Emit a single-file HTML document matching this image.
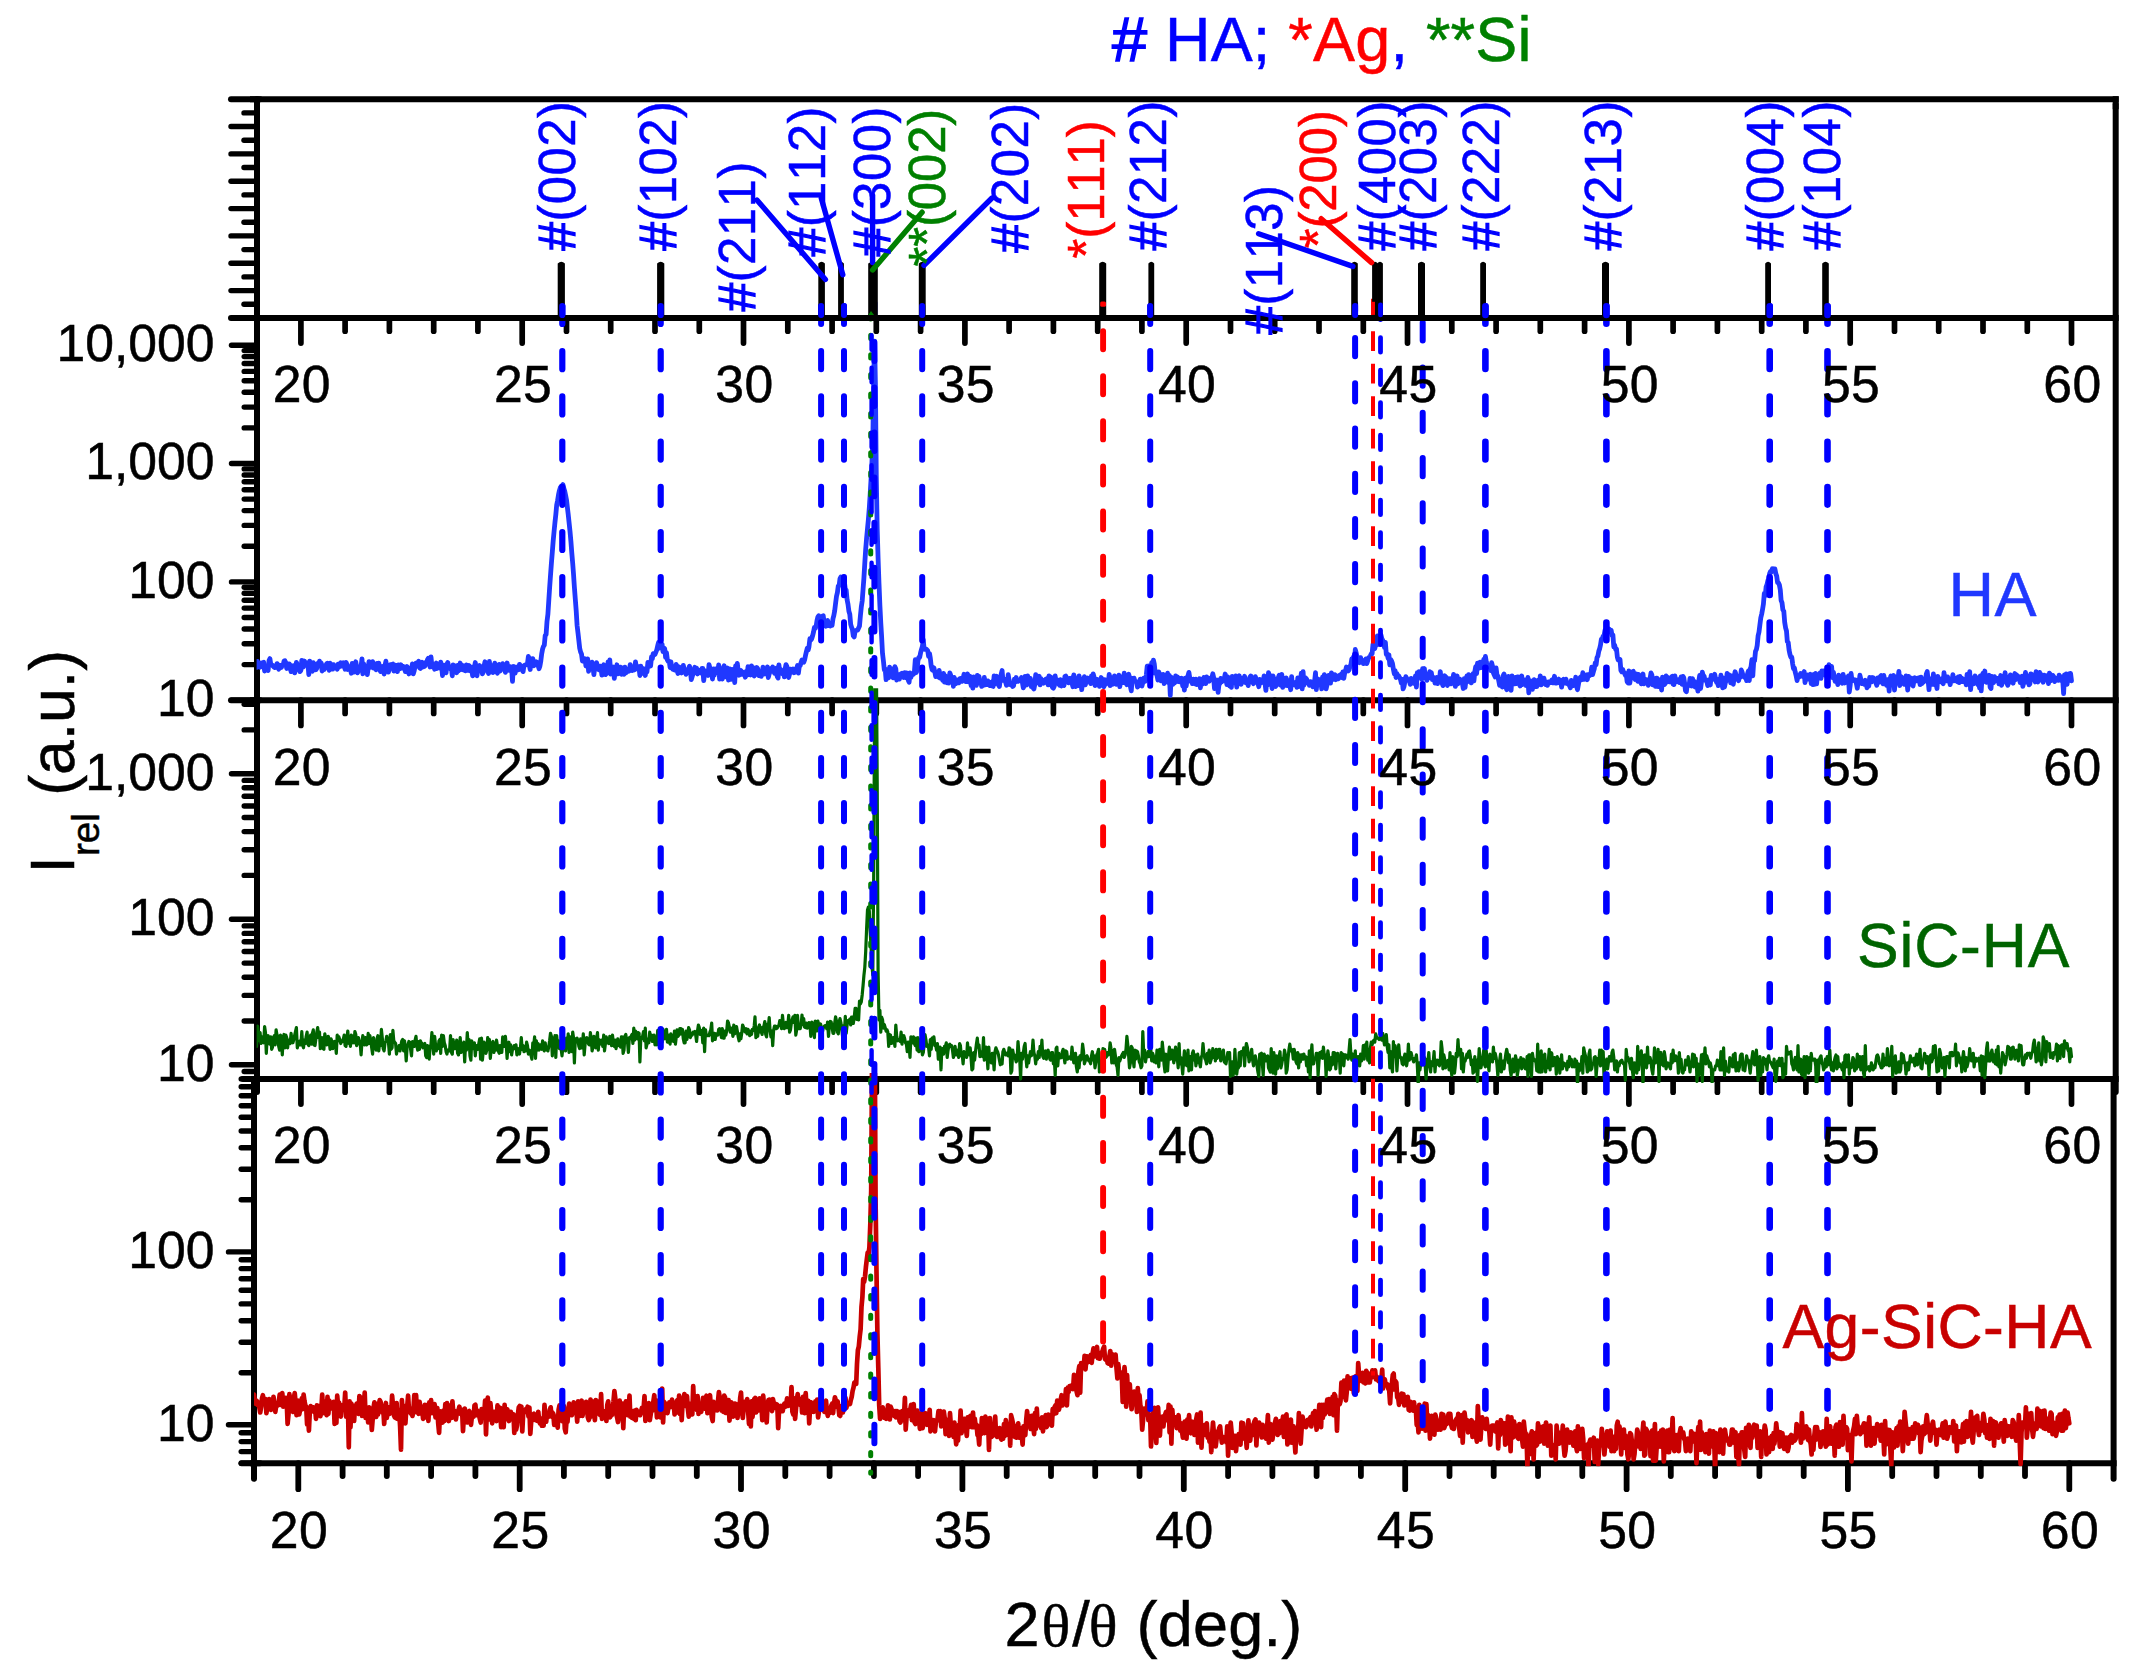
<!DOCTYPE html>
<html lang="en"><head><meta charset="utf-8"><title>XRD patterns: HA, SiC-HA, Ag-SiC-HA</title>
<style>html,body{margin:0;padding:0;background:#fff;overflow:hidden}svg{display:block}text{font-family:"Liberation Sans",sans-serif;font-kerning:none;font-variant-ligatures:none}.sym{font-family:"Liberation Serif","DejaVu Serif",serif}</style></head><body>
<svg width="2142" height="1678" viewBox="0 0 2142 1678">
<rect x="0" y="0" width="2142" height="1678" fill="#fff"/>
<defs>
<clipPath id="c2"><rect x="256.6" y="315.9" width="1859.2" height="388.3"/></clipPath>
<clipPath id="c3"><rect x="256.6" y="688.2" width="1859.2" height="394.7"/></clipPath>
<clipPath id="c4"><rect x="254" y="1072.9" width="1859.6" height="393.3"/></clipPath>
</defs>
<g id="axes-lower">
<line x1="257" y1="99.2" x2="257" y2="1091.9" stroke="#000" stroke-width="6" stroke-linecap="round"/>
<line x1="2115.7" y1="96.2" x2="2115.7" y2="109.2" stroke="#000" stroke-width="6" stroke-linecap="butt"/>
<line x1="2115.7" y1="104.2" x2="2115.7" y2="1091.9" stroke="#000" stroke-width="6" stroke-linecap="round"/>
<line x1="254" y1="1078.9" x2="254" y2="1478.7" stroke="#000" stroke-width="6" stroke-linecap="round"/>
<line x1="2113.6" y1="1078.9" x2="2113.6" y2="1478.7" stroke="#000" stroke-width="6" stroke-linecap="round"/>
<line x1="243" y1="1078.9" x2="260" y2="1078.9" stroke="#000" stroke-width="6" stroke-linecap="round"/>
<line x1="250" y1="1078.9" x2="2118.7" y2="1078.9" stroke="#000" stroke-width="6" stroke-linecap="butt"/>
<line x1="241.5" y1="1463.2" x2="260" y2="1463.2" stroke="#000" stroke-width="6" stroke-linecap="round"/>
<line x1="250" y1="1463.2" x2="2116.6" y2="1463.2" stroke="#000" stroke-width="6" stroke-linecap="butt"/>
<line x1="231" y1="700.2" x2="260" y2="700.2" stroke="#000" stroke-width="6" stroke-linecap="round"/>
<line x1="250" y1="700.2" x2="2118.7" y2="700.2" stroke="#000" stroke-width="6" stroke-linecap="butt"/>
<line x1="300.9" y1="317.9" x2="300.9" y2="343.1" stroke="#000" stroke-width="5.7" stroke-linecap="round"/>
<line x1="345.1" y1="317.9" x2="345.1" y2="331.2" stroke="#000" stroke-width="5.7" stroke-linecap="round"/>
<line x1="389.4" y1="317.9" x2="389.4" y2="331.2" stroke="#000" stroke-width="5.7" stroke-linecap="round"/>
<line x1="433.7" y1="317.9" x2="433.7" y2="331.2" stroke="#000" stroke-width="5.7" stroke-linecap="round"/>
<line x1="477.9" y1="317.9" x2="477.9" y2="331.2" stroke="#000" stroke-width="5.7" stroke-linecap="round"/>
<line x1="522.2" y1="317.9" x2="522.2" y2="343.1" stroke="#000" stroke-width="5.7" stroke-linecap="round"/>
<line x1="566.5" y1="317.9" x2="566.5" y2="331.2" stroke="#000" stroke-width="5.7" stroke-linecap="round"/>
<line x1="610.7" y1="317.9" x2="610.7" y2="331.2" stroke="#000" stroke-width="5.7" stroke-linecap="round"/>
<line x1="655" y1="317.9" x2="655" y2="331.2" stroke="#000" stroke-width="5.7" stroke-linecap="round"/>
<line x1="699.3" y1="317.9" x2="699.3" y2="331.2" stroke="#000" stroke-width="5.7" stroke-linecap="round"/>
<line x1="743.5" y1="317.9" x2="743.5" y2="343.1" stroke="#000" stroke-width="5.7" stroke-linecap="round"/>
<line x1="787.8" y1="317.9" x2="787.8" y2="331.2" stroke="#000" stroke-width="5.7" stroke-linecap="round"/>
<line x1="832.1" y1="317.9" x2="832.1" y2="331.2" stroke="#000" stroke-width="5.7" stroke-linecap="round"/>
<line x1="876.3" y1="317.9" x2="876.3" y2="331.2" stroke="#000" stroke-width="5.7" stroke-linecap="round"/>
<line x1="920.6" y1="317.9" x2="920.6" y2="331.2" stroke="#000" stroke-width="5.7" stroke-linecap="round"/>
<line x1="964.9" y1="317.9" x2="964.9" y2="343.1" stroke="#000" stroke-width="5.7" stroke-linecap="round"/>
<line x1="1009.1" y1="317.9" x2="1009.1" y2="331.2" stroke="#000" stroke-width="5.7" stroke-linecap="round"/>
<line x1="1053.4" y1="317.9" x2="1053.4" y2="331.2" stroke="#000" stroke-width="5.7" stroke-linecap="round"/>
<line x1="1097.7" y1="317.9" x2="1097.7" y2="331.2" stroke="#000" stroke-width="5.7" stroke-linecap="round"/>
<line x1="1141.9" y1="317.9" x2="1141.9" y2="331.2" stroke="#000" stroke-width="5.7" stroke-linecap="round"/>
<line x1="1186.2" y1="317.9" x2="1186.2" y2="343.1" stroke="#000" stroke-width="5.7" stroke-linecap="round"/>
<line x1="1230.5" y1="317.9" x2="1230.5" y2="331.2" stroke="#000" stroke-width="5.7" stroke-linecap="round"/>
<line x1="1274.7" y1="317.9" x2="1274.7" y2="331.2" stroke="#000" stroke-width="5.7" stroke-linecap="round"/>
<line x1="1319" y1="317.9" x2="1319" y2="331.2" stroke="#000" stroke-width="5.7" stroke-linecap="round"/>
<line x1="1363.3" y1="317.9" x2="1363.3" y2="331.2" stroke="#000" stroke-width="5.7" stroke-linecap="round"/>
<line x1="1407.5" y1="317.9" x2="1407.5" y2="343.1" stroke="#000" stroke-width="5.7" stroke-linecap="round"/>
<line x1="1451.8" y1="317.9" x2="1451.8" y2="331.2" stroke="#000" stroke-width="5.7" stroke-linecap="round"/>
<line x1="1496.1" y1="317.9" x2="1496.1" y2="331.2" stroke="#000" stroke-width="5.7" stroke-linecap="round"/>
<line x1="1540.3" y1="317.9" x2="1540.3" y2="331.2" stroke="#000" stroke-width="5.7" stroke-linecap="round"/>
<line x1="1584.6" y1="317.9" x2="1584.6" y2="331.2" stroke="#000" stroke-width="5.7" stroke-linecap="round"/>
<line x1="1628.9" y1="317.9" x2="1628.9" y2="343.1" stroke="#000" stroke-width="5.7" stroke-linecap="round"/>
<line x1="1673.1" y1="317.9" x2="1673.1" y2="331.2" stroke="#000" stroke-width="5.7" stroke-linecap="round"/>
<line x1="1717.4" y1="317.9" x2="1717.4" y2="331.2" stroke="#000" stroke-width="5.7" stroke-linecap="round"/>
<line x1="1761.7" y1="317.9" x2="1761.7" y2="331.2" stroke="#000" stroke-width="5.7" stroke-linecap="round"/>
<line x1="1805.9" y1="317.9" x2="1805.9" y2="331.2" stroke="#000" stroke-width="5.7" stroke-linecap="round"/>
<line x1="1850.2" y1="317.9" x2="1850.2" y2="343.1" stroke="#000" stroke-width="5.7" stroke-linecap="round"/>
<line x1="1894.5" y1="317.9" x2="1894.5" y2="331.2" stroke="#000" stroke-width="5.7" stroke-linecap="round"/>
<line x1="1938.7" y1="317.9" x2="1938.7" y2="331.2" stroke="#000" stroke-width="5.7" stroke-linecap="round"/>
<line x1="1983" y1="317.9" x2="1983" y2="331.2" stroke="#000" stroke-width="5.7" stroke-linecap="round"/>
<line x1="2027.3" y1="317.9" x2="2027.3" y2="331.2" stroke="#000" stroke-width="5.7" stroke-linecap="round"/>
<line x1="2071.5" y1="317.9" x2="2071.5" y2="343.1" stroke="#000" stroke-width="5.7" stroke-linecap="round"/>
<line x1="300.9" y1="700.2" x2="300.9" y2="725.4" stroke="#000" stroke-width="5.7" stroke-linecap="round"/>
<line x1="345.1" y1="700.2" x2="345.1" y2="713.5" stroke="#000" stroke-width="5.7" stroke-linecap="round"/>
<line x1="389.4" y1="700.2" x2="389.4" y2="713.5" stroke="#000" stroke-width="5.7" stroke-linecap="round"/>
<line x1="433.7" y1="700.2" x2="433.7" y2="713.5" stroke="#000" stroke-width="5.7" stroke-linecap="round"/>
<line x1="477.9" y1="700.2" x2="477.9" y2="713.5" stroke="#000" stroke-width="5.7" stroke-linecap="round"/>
<line x1="522.2" y1="700.2" x2="522.2" y2="725.4" stroke="#000" stroke-width="5.7" stroke-linecap="round"/>
<line x1="566.5" y1="700.2" x2="566.5" y2="713.5" stroke="#000" stroke-width="5.7" stroke-linecap="round"/>
<line x1="610.7" y1="700.2" x2="610.7" y2="713.5" stroke="#000" stroke-width="5.7" stroke-linecap="round"/>
<line x1="655" y1="700.2" x2="655" y2="713.5" stroke="#000" stroke-width="5.7" stroke-linecap="round"/>
<line x1="699.3" y1="700.2" x2="699.3" y2="713.5" stroke="#000" stroke-width="5.7" stroke-linecap="round"/>
<line x1="743.5" y1="700.2" x2="743.5" y2="725.4" stroke="#000" stroke-width="5.7" stroke-linecap="round"/>
<line x1="787.8" y1="700.2" x2="787.8" y2="713.5" stroke="#000" stroke-width="5.7" stroke-linecap="round"/>
<line x1="832.1" y1="700.2" x2="832.1" y2="713.5" stroke="#000" stroke-width="5.7" stroke-linecap="round"/>
<line x1="876.3" y1="700.2" x2="876.3" y2="713.5" stroke="#000" stroke-width="5.7" stroke-linecap="round"/>
<line x1="920.6" y1="700.2" x2="920.6" y2="713.5" stroke="#000" stroke-width="5.7" stroke-linecap="round"/>
<line x1="964.9" y1="700.2" x2="964.9" y2="725.4" stroke="#000" stroke-width="5.7" stroke-linecap="round"/>
<line x1="1009.1" y1="700.2" x2="1009.1" y2="713.5" stroke="#000" stroke-width="5.7" stroke-linecap="round"/>
<line x1="1053.4" y1="700.2" x2="1053.4" y2="713.5" stroke="#000" stroke-width="5.7" stroke-linecap="round"/>
<line x1="1097.7" y1="700.2" x2="1097.7" y2="713.5" stroke="#000" stroke-width="5.7" stroke-linecap="round"/>
<line x1="1141.9" y1="700.2" x2="1141.9" y2="713.5" stroke="#000" stroke-width="5.7" stroke-linecap="round"/>
<line x1="1186.2" y1="700.2" x2="1186.2" y2="725.4" stroke="#000" stroke-width="5.7" stroke-linecap="round"/>
<line x1="1230.5" y1="700.2" x2="1230.5" y2="713.5" stroke="#000" stroke-width="5.7" stroke-linecap="round"/>
<line x1="1274.7" y1="700.2" x2="1274.7" y2="713.5" stroke="#000" stroke-width="5.7" stroke-linecap="round"/>
<line x1="1319" y1="700.2" x2="1319" y2="713.5" stroke="#000" stroke-width="5.7" stroke-linecap="round"/>
<line x1="1363.3" y1="700.2" x2="1363.3" y2="713.5" stroke="#000" stroke-width="5.7" stroke-linecap="round"/>
<line x1="1407.5" y1="700.2" x2="1407.5" y2="725.4" stroke="#000" stroke-width="5.7" stroke-linecap="round"/>
<line x1="1451.8" y1="700.2" x2="1451.8" y2="713.5" stroke="#000" stroke-width="5.7" stroke-linecap="round"/>
<line x1="1496.1" y1="700.2" x2="1496.1" y2="713.5" stroke="#000" stroke-width="5.7" stroke-linecap="round"/>
<line x1="1540.3" y1="700.2" x2="1540.3" y2="713.5" stroke="#000" stroke-width="5.7" stroke-linecap="round"/>
<line x1="1584.6" y1="700.2" x2="1584.6" y2="713.5" stroke="#000" stroke-width="5.7" stroke-linecap="round"/>
<line x1="1628.9" y1="700.2" x2="1628.9" y2="725.4" stroke="#000" stroke-width="5.7" stroke-linecap="round"/>
<line x1="1673.1" y1="700.2" x2="1673.1" y2="713.5" stroke="#000" stroke-width="5.7" stroke-linecap="round"/>
<line x1="1717.4" y1="700.2" x2="1717.4" y2="713.5" stroke="#000" stroke-width="5.7" stroke-linecap="round"/>
<line x1="1761.7" y1="700.2" x2="1761.7" y2="713.5" stroke="#000" stroke-width="5.7" stroke-linecap="round"/>
<line x1="1805.9" y1="700.2" x2="1805.9" y2="713.5" stroke="#000" stroke-width="5.7" stroke-linecap="round"/>
<line x1="1850.2" y1="700.2" x2="1850.2" y2="725.4" stroke="#000" stroke-width="5.7" stroke-linecap="round"/>
<line x1="1894.5" y1="700.2" x2="1894.5" y2="713.5" stroke="#000" stroke-width="5.7" stroke-linecap="round"/>
<line x1="1938.7" y1="700.2" x2="1938.7" y2="713.5" stroke="#000" stroke-width="5.7" stroke-linecap="round"/>
<line x1="1983" y1="700.2" x2="1983" y2="713.5" stroke="#000" stroke-width="5.7" stroke-linecap="round"/>
<line x1="2027.3" y1="700.2" x2="2027.3" y2="713.5" stroke="#000" stroke-width="5.7" stroke-linecap="round"/>
<line x1="2071.5" y1="700.2" x2="2071.5" y2="725.4" stroke="#000" stroke-width="5.7" stroke-linecap="round"/>
<line x1="300.9" y1="1078.9" x2="300.9" y2="1104.1" stroke="#000" stroke-width="5.7" stroke-linecap="round"/>
<line x1="345.1" y1="1078.9" x2="345.1" y2="1092.2" stroke="#000" stroke-width="5.7" stroke-linecap="round"/>
<line x1="389.4" y1="1078.9" x2="389.4" y2="1092.2" stroke="#000" stroke-width="5.7" stroke-linecap="round"/>
<line x1="433.7" y1="1078.9" x2="433.7" y2="1092.2" stroke="#000" stroke-width="5.7" stroke-linecap="round"/>
<line x1="477.9" y1="1078.9" x2="477.9" y2="1092.2" stroke="#000" stroke-width="5.7" stroke-linecap="round"/>
<line x1="522.2" y1="1078.9" x2="522.2" y2="1104.1" stroke="#000" stroke-width="5.7" stroke-linecap="round"/>
<line x1="566.5" y1="1078.9" x2="566.5" y2="1092.2" stroke="#000" stroke-width="5.7" stroke-linecap="round"/>
<line x1="610.7" y1="1078.9" x2="610.7" y2="1092.2" stroke="#000" stroke-width="5.7" stroke-linecap="round"/>
<line x1="655" y1="1078.9" x2="655" y2="1092.2" stroke="#000" stroke-width="5.7" stroke-linecap="round"/>
<line x1="699.3" y1="1078.9" x2="699.3" y2="1092.2" stroke="#000" stroke-width="5.7" stroke-linecap="round"/>
<line x1="743.5" y1="1078.9" x2="743.5" y2="1104.1" stroke="#000" stroke-width="5.7" stroke-linecap="round"/>
<line x1="787.8" y1="1078.9" x2="787.8" y2="1092.2" stroke="#000" stroke-width="5.7" stroke-linecap="round"/>
<line x1="832.1" y1="1078.9" x2="832.1" y2="1092.2" stroke="#000" stroke-width="5.7" stroke-linecap="round"/>
<line x1="876.3" y1="1078.9" x2="876.3" y2="1092.2" stroke="#000" stroke-width="5.7" stroke-linecap="round"/>
<line x1="920.6" y1="1078.9" x2="920.6" y2="1092.2" stroke="#000" stroke-width="5.7" stroke-linecap="round"/>
<line x1="964.9" y1="1078.9" x2="964.9" y2="1104.1" stroke="#000" stroke-width="5.7" stroke-linecap="round"/>
<line x1="1009.1" y1="1078.9" x2="1009.1" y2="1092.2" stroke="#000" stroke-width="5.7" stroke-linecap="round"/>
<line x1="1053.4" y1="1078.9" x2="1053.4" y2="1092.2" stroke="#000" stroke-width="5.7" stroke-linecap="round"/>
<line x1="1097.7" y1="1078.9" x2="1097.7" y2="1092.2" stroke="#000" stroke-width="5.7" stroke-linecap="round"/>
<line x1="1141.9" y1="1078.9" x2="1141.9" y2="1092.2" stroke="#000" stroke-width="5.7" stroke-linecap="round"/>
<line x1="1186.2" y1="1078.9" x2="1186.2" y2="1104.1" stroke="#000" stroke-width="5.7" stroke-linecap="round"/>
<line x1="1230.5" y1="1078.9" x2="1230.5" y2="1092.2" stroke="#000" stroke-width="5.7" stroke-linecap="round"/>
<line x1="1274.7" y1="1078.9" x2="1274.7" y2="1092.2" stroke="#000" stroke-width="5.7" stroke-linecap="round"/>
<line x1="1319" y1="1078.9" x2="1319" y2="1092.2" stroke="#000" stroke-width="5.7" stroke-linecap="round"/>
<line x1="1363.3" y1="1078.9" x2="1363.3" y2="1092.2" stroke="#000" stroke-width="5.7" stroke-linecap="round"/>
<line x1="1407.5" y1="1078.9" x2="1407.5" y2="1104.1" stroke="#000" stroke-width="5.7" stroke-linecap="round"/>
<line x1="1451.8" y1="1078.9" x2="1451.8" y2="1092.2" stroke="#000" stroke-width="5.7" stroke-linecap="round"/>
<line x1="1496.1" y1="1078.9" x2="1496.1" y2="1092.2" stroke="#000" stroke-width="5.7" stroke-linecap="round"/>
<line x1="1540.3" y1="1078.9" x2="1540.3" y2="1092.2" stroke="#000" stroke-width="5.7" stroke-linecap="round"/>
<line x1="1584.6" y1="1078.9" x2="1584.6" y2="1092.2" stroke="#000" stroke-width="5.7" stroke-linecap="round"/>
<line x1="1628.9" y1="1078.9" x2="1628.9" y2="1104.1" stroke="#000" stroke-width="5.7" stroke-linecap="round"/>
<line x1="1673.1" y1="1078.9" x2="1673.1" y2="1092.2" stroke="#000" stroke-width="5.7" stroke-linecap="round"/>
<line x1="1717.4" y1="1078.9" x2="1717.4" y2="1092.2" stroke="#000" stroke-width="5.7" stroke-linecap="round"/>
<line x1="1761.7" y1="1078.9" x2="1761.7" y2="1092.2" stroke="#000" stroke-width="5.7" stroke-linecap="round"/>
<line x1="1805.9" y1="1078.9" x2="1805.9" y2="1092.2" stroke="#000" stroke-width="5.7" stroke-linecap="round"/>
<line x1="1850.2" y1="1078.9" x2="1850.2" y2="1104.1" stroke="#000" stroke-width="5.7" stroke-linecap="round"/>
<line x1="1894.5" y1="1078.9" x2="1894.5" y2="1092.2" stroke="#000" stroke-width="5.7" stroke-linecap="round"/>
<line x1="1938.7" y1="1078.9" x2="1938.7" y2="1092.2" stroke="#000" stroke-width="5.7" stroke-linecap="round"/>
<line x1="1983" y1="1078.9" x2="1983" y2="1092.2" stroke="#000" stroke-width="5.7" stroke-linecap="round"/>
<line x1="2027.3" y1="1078.9" x2="2027.3" y2="1092.2" stroke="#000" stroke-width="5.7" stroke-linecap="round"/>
<line x1="2071.5" y1="1078.9" x2="2071.5" y2="1104.1" stroke="#000" stroke-width="5.7" stroke-linecap="round"/>
<line x1="298.3" y1="1463.2" x2="298.3" y2="1489.2" stroke="#000" stroke-width="5.8" stroke-linecap="round"/>
<line x1="342.6" y1="1463.2" x2="342.6" y2="1476" stroke="#000" stroke-width="5.8" stroke-linecap="round"/>
<line x1="386.8" y1="1463.2" x2="386.8" y2="1476" stroke="#000" stroke-width="5.8" stroke-linecap="round"/>
<line x1="431.1" y1="1463.2" x2="431.1" y2="1476" stroke="#000" stroke-width="5.8" stroke-linecap="round"/>
<line x1="475.4" y1="1463.2" x2="475.4" y2="1476" stroke="#000" stroke-width="5.8" stroke-linecap="round"/>
<line x1="519.7" y1="1463.2" x2="519.7" y2="1489.2" stroke="#000" stroke-width="5.8" stroke-linecap="round"/>
<line x1="563.9" y1="1463.2" x2="563.9" y2="1476" stroke="#000" stroke-width="5.8" stroke-linecap="round"/>
<line x1="608.2" y1="1463.2" x2="608.2" y2="1476" stroke="#000" stroke-width="5.8" stroke-linecap="round"/>
<line x1="652.5" y1="1463.2" x2="652.5" y2="1476" stroke="#000" stroke-width="5.8" stroke-linecap="round"/>
<line x1="696.8" y1="1463.2" x2="696.8" y2="1476" stroke="#000" stroke-width="5.8" stroke-linecap="round"/>
<line x1="741" y1="1463.2" x2="741" y2="1489.2" stroke="#000" stroke-width="5.8" stroke-linecap="round"/>
<line x1="785.3" y1="1463.2" x2="785.3" y2="1476" stroke="#000" stroke-width="5.8" stroke-linecap="round"/>
<line x1="829.6" y1="1463.2" x2="829.6" y2="1476" stroke="#000" stroke-width="5.8" stroke-linecap="round"/>
<line x1="873.9" y1="1463.2" x2="873.9" y2="1476" stroke="#000" stroke-width="5.8" stroke-linecap="round"/>
<line x1="918.1" y1="1463.2" x2="918.1" y2="1476" stroke="#000" stroke-width="5.8" stroke-linecap="round"/>
<line x1="962.4" y1="1463.2" x2="962.4" y2="1489.2" stroke="#000" stroke-width="5.8" stroke-linecap="round"/>
<line x1="1006.7" y1="1463.2" x2="1006.7" y2="1476" stroke="#000" stroke-width="5.8" stroke-linecap="round"/>
<line x1="1051" y1="1463.2" x2="1051" y2="1476" stroke="#000" stroke-width="5.8" stroke-linecap="round"/>
<line x1="1095.2" y1="1463.2" x2="1095.2" y2="1476" stroke="#000" stroke-width="5.8" stroke-linecap="round"/>
<line x1="1139.5" y1="1463.2" x2="1139.5" y2="1476" stroke="#000" stroke-width="5.8" stroke-linecap="round"/>
<line x1="1183.8" y1="1463.2" x2="1183.8" y2="1489.2" stroke="#000" stroke-width="5.8" stroke-linecap="round"/>
<line x1="1228.1" y1="1463.2" x2="1228.1" y2="1476" stroke="#000" stroke-width="5.8" stroke-linecap="round"/>
<line x1="1272.4" y1="1463.2" x2="1272.4" y2="1476" stroke="#000" stroke-width="5.8" stroke-linecap="round"/>
<line x1="1316.6" y1="1463.2" x2="1316.6" y2="1476" stroke="#000" stroke-width="5.8" stroke-linecap="round"/>
<line x1="1360.9" y1="1463.2" x2="1360.9" y2="1476" stroke="#000" stroke-width="5.8" stroke-linecap="round"/>
<line x1="1405.2" y1="1463.2" x2="1405.2" y2="1489.2" stroke="#000" stroke-width="5.8" stroke-linecap="round"/>
<line x1="1449.5" y1="1463.2" x2="1449.5" y2="1476" stroke="#000" stroke-width="5.8" stroke-linecap="round"/>
<line x1="1493.7" y1="1463.2" x2="1493.7" y2="1476" stroke="#000" stroke-width="5.8" stroke-linecap="round"/>
<line x1="1538" y1="1463.2" x2="1538" y2="1476" stroke="#000" stroke-width="5.8" stroke-linecap="round"/>
<line x1="1582.3" y1="1463.2" x2="1582.3" y2="1476" stroke="#000" stroke-width="5.8" stroke-linecap="round"/>
<line x1="1626.6" y1="1463.2" x2="1626.6" y2="1489.2" stroke="#000" stroke-width="5.8" stroke-linecap="round"/>
<line x1="1670.8" y1="1463.2" x2="1670.8" y2="1476" stroke="#000" stroke-width="5.8" stroke-linecap="round"/>
<line x1="1715.1" y1="1463.2" x2="1715.1" y2="1476" stroke="#000" stroke-width="5.8" stroke-linecap="round"/>
<line x1="1759.4" y1="1463.2" x2="1759.4" y2="1476" stroke="#000" stroke-width="5.8" stroke-linecap="round"/>
<line x1="1803.7" y1="1463.2" x2="1803.7" y2="1476" stroke="#000" stroke-width="5.8" stroke-linecap="round"/>
<line x1="1847.9" y1="1463.2" x2="1847.9" y2="1489.2" stroke="#000" stroke-width="5.8" stroke-linecap="round"/>
<line x1="1892.2" y1="1463.2" x2="1892.2" y2="1476" stroke="#000" stroke-width="5.8" stroke-linecap="round"/>
<line x1="1936.5" y1="1463.2" x2="1936.5" y2="1476" stroke="#000" stroke-width="5.8" stroke-linecap="round"/>
<line x1="1980.8" y1="1463.2" x2="1980.8" y2="1476" stroke="#000" stroke-width="5.8" stroke-linecap="round"/>
<line x1="2025" y1="1463.2" x2="2025" y2="1476" stroke="#000" stroke-width="5.8" stroke-linecap="round"/>
<line x1="2069.3" y1="1463.2" x2="2069.3" y2="1489.2" stroke="#000" stroke-width="5.8" stroke-linecap="round"/>
<line x1="231.5" y1="700.2" x2="257" y2="700.2" stroke="#000" stroke-width="5.4" stroke-linecap="round"/>
<line x1="244.2" y1="664.6" x2="257" y2="664.6" stroke="#000" stroke-width="5.4" stroke-linecap="round"/>
<line x1="244.2" y1="643.7" x2="257" y2="643.7" stroke="#000" stroke-width="5.4" stroke-linecap="round"/>
<line x1="244.2" y1="629" x2="257" y2="629" stroke="#000" stroke-width="5.4" stroke-linecap="round"/>
<line x1="244.2" y1="617.5" x2="257" y2="617.5" stroke="#000" stroke-width="5.4" stroke-linecap="round"/>
<line x1="244.2" y1="608.1" x2="257" y2="608.1" stroke="#000" stroke-width="5.4" stroke-linecap="round"/>
<line x1="244.2" y1="600.2" x2="257" y2="600.2" stroke="#000" stroke-width="5.4" stroke-linecap="round"/>
<line x1="244.2" y1="593.3" x2="257" y2="593.3" stroke="#000" stroke-width="5.4" stroke-linecap="round"/>
<line x1="244.2" y1="587.3" x2="257" y2="587.3" stroke="#000" stroke-width="5.4" stroke-linecap="round"/>
<line x1="231.5" y1="581.9" x2="257" y2="581.9" stroke="#000" stroke-width="5.4" stroke-linecap="round"/>
<line x1="244.2" y1="546.2" x2="257" y2="546.2" stroke="#000" stroke-width="5.4" stroke-linecap="round"/>
<line x1="244.2" y1="525.4" x2="257" y2="525.4" stroke="#000" stroke-width="5.4" stroke-linecap="round"/>
<line x1="244.2" y1="510.6" x2="257" y2="510.6" stroke="#000" stroke-width="5.4" stroke-linecap="round"/>
<line x1="244.2" y1="499.1" x2="257" y2="499.1" stroke="#000" stroke-width="5.4" stroke-linecap="round"/>
<line x1="244.2" y1="489.8" x2="257" y2="489.8" stroke="#000" stroke-width="5.4" stroke-linecap="round"/>
<line x1="244.2" y1="481.8" x2="257" y2="481.8" stroke="#000" stroke-width="5.4" stroke-linecap="round"/>
<line x1="244.2" y1="475" x2="257" y2="475" stroke="#000" stroke-width="5.4" stroke-linecap="round"/>
<line x1="244.2" y1="468.9" x2="257" y2="468.9" stroke="#000" stroke-width="5.4" stroke-linecap="round"/>
<line x1="231.5" y1="463.5" x2="257" y2="463.5" stroke="#000" stroke-width="5.4" stroke-linecap="round"/>
<line x1="244.2" y1="427.9" x2="257" y2="427.9" stroke="#000" stroke-width="5.4" stroke-linecap="round"/>
<line x1="244.2" y1="407.1" x2="257" y2="407.1" stroke="#000" stroke-width="5.4" stroke-linecap="round"/>
<line x1="244.2" y1="392.3" x2="257" y2="392.3" stroke="#000" stroke-width="5.4" stroke-linecap="round"/>
<line x1="244.2" y1="380.8" x2="257" y2="380.8" stroke="#000" stroke-width="5.4" stroke-linecap="round"/>
<line x1="244.2" y1="371.4" x2="257" y2="371.4" stroke="#000" stroke-width="5.4" stroke-linecap="round"/>
<line x1="244.2" y1="363.5" x2="257" y2="363.5" stroke="#000" stroke-width="5.4" stroke-linecap="round"/>
<line x1="244.2" y1="356.6" x2="257" y2="356.6" stroke="#000" stroke-width="5.4" stroke-linecap="round"/>
<line x1="244.2" y1="350.6" x2="257" y2="350.6" stroke="#000" stroke-width="5.4" stroke-linecap="round"/>
<line x1="231.5" y1="345.2" x2="257" y2="345.2" stroke="#000" stroke-width="5.4" stroke-linecap="round"/>
<line x1="244.2" y1="1078.9" x2="257" y2="1078.9" stroke="#000" stroke-width="5.4" stroke-linecap="round"/>
<line x1="244.2" y1="1071.5" x2="257" y2="1071.5" stroke="#000" stroke-width="5.4" stroke-linecap="round"/>
<line x1="231.5" y1="1064.8" x2="257" y2="1064.8" stroke="#000" stroke-width="5.4" stroke-linecap="round"/>
<line x1="244.2" y1="1021" x2="257" y2="1021" stroke="#000" stroke-width="5.4" stroke-linecap="round"/>
<line x1="244.2" y1="995.4" x2="257" y2="995.4" stroke="#000" stroke-width="5.4" stroke-linecap="round"/>
<line x1="244.2" y1="977.2" x2="257" y2="977.2" stroke="#000" stroke-width="5.4" stroke-linecap="round"/>
<line x1="244.2" y1="963.1" x2="257" y2="963.1" stroke="#000" stroke-width="5.4" stroke-linecap="round"/>
<line x1="244.2" y1="951.5" x2="257" y2="951.5" stroke="#000" stroke-width="5.4" stroke-linecap="round"/>
<line x1="244.2" y1="941.8" x2="257" y2="941.8" stroke="#000" stroke-width="5.4" stroke-linecap="round"/>
<line x1="244.2" y1="933.4" x2="257" y2="933.4" stroke="#000" stroke-width="5.4" stroke-linecap="round"/>
<line x1="244.2" y1="925.9" x2="257" y2="925.9" stroke="#000" stroke-width="5.4" stroke-linecap="round"/>
<line x1="231.5" y1="919.3" x2="257" y2="919.3" stroke="#000" stroke-width="5.4" stroke-linecap="round"/>
<line x1="244.2" y1="875.4" x2="257" y2="875.4" stroke="#000" stroke-width="5.4" stroke-linecap="round"/>
<line x1="244.2" y1="849.8" x2="257" y2="849.8" stroke="#000" stroke-width="5.4" stroke-linecap="round"/>
<line x1="244.2" y1="831.6" x2="257" y2="831.6" stroke="#000" stroke-width="5.4" stroke-linecap="round"/>
<line x1="244.2" y1="817.5" x2="257" y2="817.5" stroke="#000" stroke-width="5.4" stroke-linecap="round"/>
<line x1="244.2" y1="806" x2="257" y2="806" stroke="#000" stroke-width="5.4" stroke-linecap="round"/>
<line x1="244.2" y1="796.3" x2="257" y2="796.3" stroke="#000" stroke-width="5.4" stroke-linecap="round"/>
<line x1="244.2" y1="787.8" x2="257" y2="787.8" stroke="#000" stroke-width="5.4" stroke-linecap="round"/>
<line x1="244.2" y1="780.4" x2="257" y2="780.4" stroke="#000" stroke-width="5.4" stroke-linecap="round"/>
<line x1="231.5" y1="773.7" x2="257" y2="773.7" stroke="#000" stroke-width="5.4" stroke-linecap="round"/>
<line x1="244.2" y1="729.9" x2="257" y2="729.9" stroke="#000" stroke-width="5.4" stroke-linecap="round"/>
<line x1="244.2" y1="704.3" x2="257" y2="704.3" stroke="#000" stroke-width="5.4" stroke-linecap="round"/>
<line x1="241.2" y1="1463.2" x2="254" y2="1463.2" stroke="#000" stroke-width="5.4" stroke-linecap="round"/>
<line x1="241.2" y1="1451.6" x2="254" y2="1451.6" stroke="#000" stroke-width="5.4" stroke-linecap="round"/>
<line x1="241.2" y1="1441.6" x2="254" y2="1441.6" stroke="#000" stroke-width="5.4" stroke-linecap="round"/>
<line x1="241.2" y1="1432.7" x2="254" y2="1432.7" stroke="#000" stroke-width="5.4" stroke-linecap="round"/>
<line x1="228.5" y1="1424.8" x2="254" y2="1424.8" stroke="#000" stroke-width="5.4" stroke-linecap="round"/>
<line x1="241.2" y1="1372.8" x2="254" y2="1372.8" stroke="#000" stroke-width="5.4" stroke-linecap="round"/>
<line x1="241.2" y1="1342.3" x2="254" y2="1342.3" stroke="#000" stroke-width="5.4" stroke-linecap="round"/>
<line x1="241.2" y1="1320.7" x2="254" y2="1320.7" stroke="#000" stroke-width="5.4" stroke-linecap="round"/>
<line x1="241.2" y1="1303.9" x2="254" y2="1303.9" stroke="#000" stroke-width="5.4" stroke-linecap="round"/>
<line x1="241.2" y1="1290.2" x2="254" y2="1290.2" stroke="#000" stroke-width="5.4" stroke-linecap="round"/>
<line x1="241.2" y1="1278.7" x2="254" y2="1278.7" stroke="#000" stroke-width="5.4" stroke-linecap="round"/>
<line x1="241.2" y1="1268.6" x2="254" y2="1268.6" stroke="#000" stroke-width="5.4" stroke-linecap="round"/>
<line x1="241.2" y1="1259.8" x2="254" y2="1259.8" stroke="#000" stroke-width="5.4" stroke-linecap="round"/>
<line x1="228.5" y1="1251.9" x2="254" y2="1251.9" stroke="#000" stroke-width="5.4" stroke-linecap="round"/>
<line x1="241.2" y1="1199.8" x2="254" y2="1199.8" stroke="#000" stroke-width="5.4" stroke-linecap="round"/>
<line x1="241.2" y1="1169.3" x2="254" y2="1169.3" stroke="#000" stroke-width="5.4" stroke-linecap="round"/>
<line x1="241.2" y1="1147.7" x2="254" y2="1147.7" stroke="#000" stroke-width="5.4" stroke-linecap="round"/>
<line x1="241.2" y1="1131" x2="254" y2="1131" stroke="#000" stroke-width="5.4" stroke-linecap="round"/>
<line x1="241.2" y1="1117.3" x2="254" y2="1117.3" stroke="#000" stroke-width="5.4" stroke-linecap="round"/>
<line x1="241.2" y1="1105.7" x2="254" y2="1105.7" stroke="#000" stroke-width="5.4" stroke-linecap="round"/>
<line x1="241.2" y1="1095.7" x2="254" y2="1095.7" stroke="#000" stroke-width="5.4" stroke-linecap="round"/>
<line x1="241.2" y1="1086.8" x2="254" y2="1086.8" stroke="#000" stroke-width="5.4" stroke-linecap="round"/>
<line x1="241.2" y1="1078.9" x2="254" y2="1078.9" stroke="#000" stroke-width="5.4" stroke-linecap="round"/>
</g>
<g id="curves">
<polyline clip-path="url(#c2)" fill="none" stroke="#2038ff" stroke-width="4.8" stroke-linejoin="round" stroke-linecap="round" points="256.6,667.5 257.5,661.4 258.4,665.5 259.3,663.6 260.1,667.2 261,663 261.9,665.3 262.8,662.5 263.7,662.3 264.6,671 265.5,666.2 266.3,667.2 267.2,668.2 268.1,670.5 269,660.7 269.9,658.6 270.8,664.3 271.7,664.8 272.5,665.3 273.4,666.5 274.3,667.5 275.2,667.5 276.1,667.2 277,663.6 277.8,667 278.7,669.2 279.6,665.3 280.5,667.7 281.4,667.5 282.3,665 283.2,665 284,661.2 284.9,660.7 285.8,662.5 286.7,668.5 287.6,668 288.5,663.9 289.4,663.9 290.2,668 291.1,671.6 292,666 292.9,667.2 293.8,665.8 294.7,672.9 295.6,669.2 296.4,662.3 297.3,664.8 298.2,665.3 299.1,667.7 300,671.6 300.9,670.3 301.8,660.3 302.6,667.2 303.5,667 304.4,661 305.3,665.5 306.2,663.4 307.1,663.6 307.9,662.7 308.8,674.6 309.7,661.2 310.6,667.2 311.5,662.7 312.4,671.3 313.3,662.7 314.1,665.8 315,665.3 315.9,669.7 316.8,668.2 317.7,663.4 318.6,665.5 319.5,661.2 320.3,663.6 321.2,663 322.1,671 323,669.7 323.9,669.7 324.8,665.8 325.7,668 326.5,663.9 327.4,663.2 328.3,666 329.2,670.3 330.1,663.2 331,664.8 331.9,669.2 332.7,669.2 333.6,664.6 334.5,667.7 335.4,666.7 336.3,666.7 337.2,669.2 338.1,664.1 338.9,667.2 339.8,665 340.7,662.7 341.6,666.2 342.5,666.2 343.4,662.7 344.2,665 345.1,669.2 346,662.3 346.9,664.3 347.8,669.5 348.7,668 349.6,667 350.4,668.2 351.3,673.2 352.2,663.4 353.1,666.5 354,672.1 354.9,663.6 355.8,661.8 356.6,666.7 357.5,672.9 358.4,670.8 359.3,669 360.2,666.7 361.1,666 362,658.8 362.8,673.8 363.7,663.9 364.6,668.5 365.5,670.8 366.4,670 367.3,674.6 368.2,667.7 369,661.6 369.9,667.5 370.8,665.3 371.7,664.8 372.6,661.6 373.5,668.2 374.3,666.7 375.2,667.2 376.1,669.7 377,663.4 377.9,664.8 378.8,663.2 379.7,669.2 380.5,671.6 381.4,667.5 382.3,666.5 383.2,666.7 384.1,674 385,665.3 385.9,661.2 386.7,668.5 387.6,668.2 388.5,672.1 389.4,667.7 390.3,664.6 391.2,667.2 392.1,664.6 392.9,664.1 393.8,671 394.7,668.2 395.6,665.3 396.5,669.2 397.4,671.6 398.3,665 399.1,665.5 400,668.7 400.9,664.8 401.8,667.7 402.7,668.2 403.6,666.5 404.5,667.7 405.3,671.6 406.2,671.3 407.1,666.5 408,668.2 408.9,674 409.8,671.6 410.6,672.4 411.5,670 412.4,663.9 413.3,673.8 414.2,670.8 415.1,666.2 416,663.2 416.8,663 417.7,663.2 418.6,661.2 419.5,667.7 420.4,668.5 421.3,665.8 422.2,662.3 423,667 423.9,663.9 424.8,666.2 425.7,662.5 426.6,664.1 427.5,659.5 428.4,658.2 429.2,662.5 430.1,667 431,657 431.9,665.8 432.8,667 433.7,665.3 434.6,669.2 435.4,667 436.3,663 437.2,668.5 438.1,666.7 439,665 439.9,668 440.7,662.1 441.6,666 442.5,675.5 443.4,667 444.3,665.3 445.2,670.5 446.1,672.7 446.9,664.1 447.8,662.5 448.7,667 449.6,667.2 450.5,669 451.4,668.2 452.3,675.8 453.1,665 454,669.2 454.9,665.8 455.8,669.2 456.7,672.7 457.6,665.5 458.5,670.8 459.3,669 460.2,663 461.1,669.5 462,669.2 462.9,665.5 463.8,670 464.7,666.2 465.5,670.8 466.4,664.8 467.3,670.3 468.2,669 469.1,665.5 470,670.8 470.9,667.7 471.7,667.2 472.6,675.8 473.5,669.7 474.4,667.5 475.3,662.5 476.2,669 477,675.8 477.9,667.5 478.8,670.3 479.7,665.5 480.6,670.8 481.5,667.5 482.4,673.8 483.2,672.4 484.1,665.8 485,661.8 485.9,667.7 486.8,670.3 487.7,670.5 488.6,673.5 489.4,661.4 490.3,670.5 491.2,667.2 492.1,665.5 493,672.7 493.9,667.5 494.8,663.2 495.6,670 496.5,670.8 497.4,673.2 498.3,669.7 499.2,664.3 500.1,671 501,666.7 501.8,667.2 502.7,663.6 503.6,667.7 504.5,669.5 505.4,672.4 506.3,668.5 507.1,663 508,668.5 508.9,670.3 509.8,666.5 510.7,667.5 511.6,668.5 512.5,681.3 513.3,666.5 514.2,666.7 515.1,673.2 516,669.2 516.9,669 517.8,666.7 518.7,669.7 519.5,664.3 520.4,665.8 521.3,667.5 522.2,670 523.1,671.6 524,665.5 524.9,665 525.7,664.8 526.6,664.6 527.5,663.4 528.4,656.4 529.3,665.3 530.2,669.5 531.1,658.8 531.9,663.4 532.8,658.6 533.7,665.8 534.6,664.3 535.5,663.6 536.4,661.8 537.3,665.3 538.1,665.3 539,668.7 539.9,666.2 540.8,661 541.7,653.7 542.6,649 543.4,646.5 544.3,645.2 545.2,635.4 546.1,634.5 547,621.5 547.9,614.3 548.8,600.3 549.6,588.1 550.5,575.5 551.4,563.3 552.3,552.2 553.2,540.7 554.1,531.1 555,521.9 555.8,514.7 556.7,504.9 557.6,500.4 558.5,494.8 559.4,490.6 560.3,487.6 561.2,486.3 562,485.8 562.9,484.6 563.8,488.4 564.7,491 565.6,495.3 566.5,499.9 567.4,507.6 568.2,514.3 569.1,522.7 570,531.3 570.9,541.3 571.8,553 572.7,563.4 573.5,573.9 574.4,587.3 575.3,599.1 576.2,610.7 577.1,625.5 578,633 578.9,640.9 579.7,648.3 580.6,652 581.5,654 582.4,661 583.3,658.8 584.2,658.6 585.1,658.8 585.9,666 586.8,666 587.7,659 588.6,671.3 589.5,663 590.4,667.2 591.3,666.2 592.1,662.1 593,667.2 593.9,674.6 594.8,667 595.7,664.6 596.6,662.7 597.5,666.5 598.3,669.5 599.2,670 600.1,666.2 601,668 601.9,675.2 602.8,667.5 603.7,664.8 604.5,668.2 605.4,674.6 606.3,673.8 607.2,671.6 608.1,661.8 609,667.7 609.8,659.9 610.7,674 611.6,669.5 612.5,672.9 613.4,667 614.3,678.4 615.2,670.8 616,670 616.9,664.8 617.8,673.8 618.7,668.2 619.6,671 620.5,667.2 621.4,674.3 622.2,668 623.1,669 624,674.3 624.9,667.2 625.8,672.9 626.7,671 627.6,669.7 628.4,671.3 629.3,670.8 630.2,664.6 631.1,668.7 632,670.5 632.9,669 633.8,670 634.6,669.7 635.5,661.8 636.4,667.5 637.3,668.7 638.2,666.5 639.1,668.2 639.9,675.5 640.8,666.2 641.7,671.3 642.6,673.2 643.5,668.7 644.4,670.3 645.3,675.5 646.1,670 647,671.8 647.9,662.3 648.8,666.7 649.7,663 650.6,666 651.5,657 652.3,658.8 653.2,653.7 654.1,653.5 655,654.4 655.9,652.2 656.8,649.7 657.7,645.8 658.5,642.5 659.4,648.1 660.3,647.4 661.2,645.5 662.1,644.2 663,651.6 663.9,648 664.7,648.8 665.6,657.4 666.5,652.7 667.4,660.1 668.3,661.6 669.2,661.2 670.1,667.5 670.9,661.8 671.8,667.5 672.7,669.2 673.6,668.2 674.5,670 675.4,670 676.2,664.3 677.1,670.5 678,673.5 678.9,667 679.8,672.1 680.7,671 681.6,672.9 682.4,671.8 683.3,665.3 684.2,669.7 685.1,670.3 686,674.3 686.9,670.3 687.8,669.5 688.6,668.5 689.5,666.2 690.4,671.3 691.3,679.7 692.2,676.6 693.1,673.5 694,670 694.8,667.2 695.7,672.7 696.6,668.2 697.5,674 698.4,670 699.3,672.4 700.2,671.3 701,672.9 701.9,668.5 702.8,668.5 703.7,680.6 704.6,673.5 705.5,671 706.3,675.2 707.2,672.1 708.1,675.5 709,664.6 709.9,668.2 710.8,673.8 711.7,672.1 712.5,679.1 713.4,669 714.3,675.2 715.2,669 716.1,670.8 717,671.6 717.9,672.7 718.7,664.8 719.6,679.1 720.5,676.3 721.4,670.3 722.3,679.1 723.2,668.2 724.1,665.8 724.9,676.9 725.8,675.5 726.7,672.7 727.6,668 728.5,680 729.4,672.7 730.3,669 731.1,679.4 732,672.4 732.9,669.5 733.8,672.1 734.7,682.6 735.6,666 736.5,669 737.3,663.4 738.2,670.8 739.1,675.2 740,671.3 740.9,670.5 741.8,674.3 742.6,672.1 743.5,672.7 744.4,672.9 745.3,677.2 746.2,671.3 747.1,675.2 748,666.7 748.8,674.6 749.7,673.2 750.6,674.9 751.5,665.8 752.4,671.6 753.3,667.5 754.2,676 755,672.1 755.9,671.8 756.8,667.5 757.7,668.7 758.6,675.5 759.5,672.9 760.4,676 761.2,676.3 762.1,673.2 763,667.2 763.9,674 764.8,671 765.7,672.4 766.6,673.8 767.4,667 768.3,677.5 769.2,674 770.1,671.3 771,668.5 771.9,668.7 772.7,667 773.6,670.8 774.5,673.2 775.4,670.3 776.3,668.2 777.2,676.6 778.1,678.1 778.9,664.8 779.8,671.6 780.7,669.5 781.6,670.5 782.5,673.8 783.4,670.8 784.3,676.9 785.1,669 786,664.6 786.9,666.5 787.8,669.7 788.7,677.5 789.6,674 790.5,669.2 791.3,671.3 792.2,671.3 793.1,669 794,672.7 794.9,671.8 795.8,668.7 796.7,669.2 797.5,665.5 798.4,673.2 799.3,666.2 800.2,665.5 801.1,662.5 802,659.9 802.9,661.8 803.7,662.3 804.6,659.9 805.5,655.6 806.4,651.6 807.3,648.1 808.2,649.8 809,646.6 809.9,638.7 810.8,640.1 811.7,638.8 812.6,635.8 813.5,632.2 814.4,627.5 815.2,628.5 816.1,626.3 817,620.6 817.9,616.9 818.8,615.7 819.7,621.1 820.6,620.9 821.4,618.1 822.3,616.3 823.2,615.7 824.1,621.8 825,623 825.9,626.3 826.8,622.2 827.6,620.4 828.5,625.7 829.4,623.5 830.3,626 831.2,625 832.1,625.2 833,618.6 833.8,615.6 834.7,610.7 835.6,603.2 836.5,596.3 837.4,592.6 838.3,585.8 839.1,585.7 840,578.6 840.9,577 841.8,580.3 842.7,577.2 843.6,577 844.5,582.9 845.3,589.3 846.2,590.1 847.1,599.7 848,604.2 848.9,611.2 849.8,614.2 850.7,624.4 851.5,627.1 852.4,629.3 853.3,635.8 854.2,636.9 855.1,631.2 856,630.6 856.9,630.1 857.7,630 858.6,628 859.5,626 860.4,615.9 861.3,606.9 862.2,601 863.1,588.9 863.9,578.3 864.8,563 865.7,549.2 866.6,538.3 867.5,528.7 868.4,519.1 869.3,508 870.1,495.4 871,479.9 871.9,463.2 872.8,441.6 873.7,378.3 874.6,341.1 875.4,383.4 876.3,477.4 877.2,528.5 878.1,558.5 879,583.7 879.9,605.6 880.8,623 881.6,636.4 882.5,653.3 883.4,660.7 884.3,669.7 885.2,669 886.1,679.7 887,671 887.8,675.2 888.7,677.8 889.6,667.2 890.5,670.5 891.4,674.6 892.3,672.1 893.2,677.8 894,668.5 894.9,666.7 895.8,668.7 896.7,680 897.6,678.7 898.5,674.6 899.4,679.1 900.2,676.3 901.1,673.8 902,673.2 902.9,674 903.8,677.5 904.7,672.7 905.5,677.5 906.4,672.9 907.3,676.6 908.2,680 909.1,682.2 910,672.9 910.9,677.5 911.7,674 912.6,674.6 913.5,674.3 914.4,671.8 915.3,659.7 916.2,672.7 917.1,670.5 917.9,661 918.8,657.4 919.7,657.4 920.6,652.7 921.5,649.5 922.4,646.3 923.3,639.7 924.1,649.2 925,649.3 925.9,649 926.8,649.7 927.7,650.6 928.6,656.4 929.5,653.5 930.3,658 931.2,666 932.1,669.7 933,670.5 933.9,667.7 934.8,671.8 935.7,676.6 936.5,676.3 937.4,675.8 938.3,676.9 939.2,670.5 940.1,678.1 941,675.2 941.8,674.6 942.7,680.3 943.6,673.5 944.5,682.2 945.4,676 946.3,677.5 947.2,682.9 948,680.6 948.9,682.9 949.8,672.9 950.7,675.2 951.6,680 952.5,678.1 953.4,686.4 954.2,677.5 955.1,680 956,683.6 956.9,680.9 957.8,680 958.7,682.9 959.6,678.7 960.4,678.4 961.3,680 962.2,681.3 963.1,678.4 964,674.3 964.9,677.5 965.8,681.6 966.6,680.9 967.5,674 968.4,681.9 969.3,681.3 970.2,676.3 971.1,685.6 971.9,680.9 972.8,688.2 973.7,676.9 974.6,680 975.5,684.9 976.4,685.3 977.3,675.5 978.1,682.6 979,676.3 979.9,683.2 980.8,682.2 981.7,686.4 982.6,683.9 983.5,685.3 984.3,677.5 985.2,684.9 986.1,681.9 987,684.6 987.9,680.9 988.8,682.9 989.7,685.6 990.5,683.9 991.4,682.2 992.3,686 993.2,686.4 994.1,676 995,683.9 995.9,679.1 996.7,676.3 997.6,677.8 998.5,684.9 999.4,686.4 1000.3,679.7 1001.2,674 1002.1,670.5 1002.9,680.3 1003.8,679.4 1004.7,679.1 1005.6,682.2 1006.5,685.3 1007.4,683.6 1008.2,674.6 1009.1,680.3 1010,684.6 1010.9,683.2 1011.8,684.9 1012.7,686.4 1013.6,685.6 1014.4,679.1 1015.3,681.9 1016.2,677.5 1017.1,680.9 1018,681.3 1018.9,680.3 1019.8,680.3 1020.6,680.3 1021.5,677.5 1022.4,682.6 1023.3,687.8 1024.2,685.6 1025.1,676.3 1026,684.3 1026.8,684.9 1027.7,676 1028.6,680 1029.5,682.6 1030.4,678.4 1031.3,686.7 1032.2,683.9 1033,687.8 1033.9,688.9 1034.8,684.6 1035.7,674.6 1036.6,682.9 1037.5,681.6 1038.3,679.1 1039.2,676.3 1040.1,684.9 1041,678.7 1041.9,682.6 1042.8,681.3 1043.7,683.2 1044.5,680.9 1045.4,679.4 1046.3,682.2 1047.2,678.4 1048.1,684.9 1049,675.8 1049.9,678.7 1050.7,676.9 1051.6,685.3 1052.5,687.4 1053.4,688.2 1054.3,686 1055.2,676 1056.1,683.6 1056.9,679.7 1057.8,681.3 1058.7,683.9 1059.6,685.3 1060.5,679.7 1061.4,686 1062.3,684.9 1063.1,682.6 1064,685.6 1064.9,676.6 1065.8,676 1066.7,678.7 1067.6,679.7 1068.5,682.9 1069.3,678.4 1070.2,679.1 1071.1,678.4 1072,683.2 1072.9,686.7 1073.8,674.9 1074.6,678.4 1075.5,686.7 1076.4,679.1 1077.3,683.9 1078.2,685.6 1079.1,676 1080,680 1080.8,679.4 1081.7,689.7 1082.6,681.6 1083.5,682.2 1084.4,676.6 1085.3,684.9 1086.2,681.6 1087,680.3 1087.9,678.1 1088.8,678.7 1089.7,680.9 1090.6,683.6 1091.5,675.8 1092.4,682.6 1093.2,674 1094.1,677.2 1095,685.6 1095.9,681.9 1096.8,679.4 1097.7,679.7 1098.6,682.2 1099.4,686.4 1100.3,682.2 1101.2,677.5 1102.1,682.9 1103,685.3 1103.9,686.7 1104.7,679.7 1105.6,684.3 1106.5,682.2 1107.4,679.7 1108.3,682.9 1109.2,674.3 1110.1,685.6 1110.9,679.1 1111.8,678.1 1112.7,684.3 1113.6,683.2 1114.5,675.8 1115.4,678.4 1116.3,684.3 1117.1,682.6 1118,680.3 1118.9,675.2 1119.8,686.7 1120.7,680.6 1121.6,676.9 1122.5,678.7 1123.3,682.6 1124.2,673.2 1125.1,679.4 1126,683.2 1126.9,684.6 1127.8,676.9 1128.7,674.3 1129.5,677.2 1130.4,686.4 1131.3,690.8 1132.2,678.4 1133.1,680.9 1134,678.1 1134.9,680.9 1135.7,681.3 1136.6,682.2 1137.5,687.1 1138.4,686 1139.3,684.6 1140.2,679.1 1141,679.1 1141.9,686 1142.8,682.9 1143.7,678.1 1144.6,678.1 1145.5,681.3 1146.4,674.3 1147.2,666.2 1148.1,666 1149,671.8 1149.9,674 1150.8,677.8 1151.7,662.7 1152.6,669.5 1153.4,660.1 1154.3,664.1 1155.2,673.2 1156.1,671.6 1157,675.5 1157.9,680 1158.8,671.8 1159.6,680 1160.5,680.6 1161.4,674.6 1162.3,680.3 1163.2,674.3 1164.1,683.6 1165,681.6 1165.8,679.7 1166.7,676.9 1167.6,673.2 1168.5,682.6 1169.4,675.5 1170.3,695.3 1171.1,677.2 1172,678.7 1172.9,684.3 1173.8,682.2 1174.7,682.9 1175.6,676 1176.5,680 1177.3,676.9 1178.2,681.6 1179.1,678.1 1180,681.9 1180.9,679.7 1181.8,678.4 1182.7,686 1183.5,683.2 1184.4,690.1 1185.3,678.1 1186.2,686 1187.1,679.4 1188,675.8 1188.9,672.4 1189.7,677.5 1190.6,681.3 1191.5,679.7 1192.4,683.6 1193.3,679.1 1194.2,680 1195.1,683.9 1195.9,679.1 1196.8,684.6 1197.7,680.9 1198.6,680.6 1199.5,678.7 1200.4,687.8 1201.3,680 1202.1,684.3 1203,679.4 1203.9,677.5 1204.8,681.3 1205.7,683.6 1206.6,676.9 1207.4,680.6 1208.3,678.1 1209.2,681.3 1210.1,678.4 1211,678.1 1211.9,678.1 1212.8,673.8 1213.6,677.2 1214.5,688.5 1215.4,687.8 1216.3,686 1217.2,680 1218.1,692.4 1219,683.9 1219.8,683.6 1220.7,678.4 1221.6,681.9 1222.5,680 1223.4,680.6 1224.3,678.7 1225.2,674 1226,678.4 1226.9,684.6 1227.8,676.9 1228.7,680 1229.6,686 1230.5,682.6 1231.4,687.4 1232.2,676.3 1233.1,683.2 1234,680 1234.9,677.8 1235.8,676 1236.7,687.1 1237.5,680.9 1238.4,679.4 1239.3,675.8 1240.2,681.6 1241.1,684.3 1242,678.4 1242.9,679.1 1243.7,680.3 1244.6,676.3 1245.5,682.6 1246.4,680.3 1247.3,682.6 1248.2,685.6 1249.1,679.7 1249.9,677.2 1250.8,676 1251.7,680 1252.6,682.2 1253.5,683.6 1254.4,680 1255.3,676.6 1256.1,678.7 1257,681.6 1257.9,682.9 1258.8,686.7 1259.7,679.4 1260.6,681.9 1261.5,682.6 1262.3,680.3 1263.2,681.3 1264.1,675.8 1265,683.2 1265.9,690.4 1266.8,680.9 1267.7,684.9 1268.5,672.7 1269.4,676 1270.3,675.8 1271.2,680.6 1272.1,688.5 1273,676 1273.8,678.7 1274.7,685.6 1275.6,686.4 1276.5,684.6 1277.4,682.6 1278.3,677.5 1279.2,675.2 1280,684.9 1280.9,685.3 1281.8,674.3 1282.7,687.4 1283.6,681.3 1284.5,680 1285.4,685.3 1286.2,677.8 1287.1,685.6 1288,680.3 1288.9,683.2 1289.8,685.6 1290.7,689.7 1291.6,676.6 1292.4,684.9 1293.3,683.9 1294.2,684.9 1295.1,684.9 1296,682.2 1296.9,687.4 1297.8,677.8 1298.6,686.7 1299.5,680.3 1300.4,682.2 1301.3,673.2 1302.2,688.9 1303.1,671.6 1303.9,685.3 1304.8,677.5 1305.7,678.1 1306.6,679.1 1307.5,682.9 1308.4,681.6 1309.3,685.3 1310.1,681.6 1311,681.9 1311.9,683.9 1312.8,686.7 1313.7,682.6 1314.6,681.3 1315.5,672.7 1316.3,689.7 1317.2,681.6 1318.1,679.1 1319,683.6 1319.9,683.2 1320.8,680 1321.7,688.9 1322.5,677.2 1323.4,677.8 1324.3,674.6 1325.2,681.9 1326.1,688.9 1327,684.9 1327.9,683.2 1328.7,675.5 1329.6,676 1330.5,683.2 1331.4,672.9 1332.3,676.9 1333.2,679.4 1334.1,679.4 1334.9,674.6 1335.8,679.7 1336.7,677.5 1337.6,676.3 1338.5,678.7 1339.4,675.5 1340.2,674.9 1341.1,676.9 1342,677.5 1342.9,671.8 1343.8,678.4 1344.7,672.9 1345.6,670.5 1346.4,667 1347.3,668 1348.2,671 1349.1,670 1350,666.5 1350.9,664.6 1351.8,659 1352.6,659.9 1353.5,656.8 1354.4,662.5 1355.3,649.5 1356.2,652.9 1357.1,657 1358,662.5 1358.8,657.6 1359.7,662.7 1360.6,657.6 1361.5,661.4 1362.4,660.3 1363.3,663.6 1364.2,663.2 1365,662.1 1365.9,659 1366.8,663.6 1367.7,660.7 1368.6,657.6 1369.5,657.2 1370.3,656 1371.2,653.9 1372.1,653.7 1373,644.2 1373.9,646.6 1374.8,648.5 1375.7,644.2 1376.5,645.2 1377.4,635.8 1378.3,637.7 1379.2,640.6 1380.1,644.4 1381,635 1381.9,638.7 1382.7,640.1 1383.6,643.3 1384.5,647.4 1385.4,642.4 1386.3,654.4 1387.2,653.9 1388.1,658.4 1388.9,654.8 1389.8,664.8 1390.7,659.5 1391.6,661 1392.5,663.6 1393.4,669.2 1394.3,673.8 1395.1,670.5 1396,677.5 1396.9,673.5 1397.8,676.9 1398.7,675.8 1399.6,677.5 1400.5,679.4 1401.3,682.9 1402.2,679.4 1403.1,688.9 1404,686.7 1404.9,681.6 1405.8,676.6 1406.6,678.1 1407.5,680 1408.4,680.3 1409.3,680.6 1410.2,684.3 1411.1,678.4 1412,681.6 1412.8,682.9 1413.7,681.9 1414.6,683.6 1415.5,675.8 1416.4,687.1 1417.3,672.7 1418.2,677.2 1419,671.6 1419.9,675.5 1420.8,674 1421.7,679.4 1422.6,668.7 1423.5,674 1424.4,668.5 1425.2,678.4 1426.1,674.9 1427,680.3 1427.9,675.2 1428.8,676.9 1429.7,671.6 1430.6,677.8 1431.4,672.7 1432.3,679.7 1433.2,678.1 1434.1,677.8 1435,683.2 1435.9,678.4 1436.7,677.5 1437.6,683.6 1438.5,677.5 1439.4,680.9 1440.3,671.6 1441.2,680.3 1442.1,683.2 1442.9,685.6 1443.8,680.6 1444.7,675.8 1445.6,676.9 1446.5,677.5 1447.4,685.6 1448.3,681.3 1449.1,683.2 1450,678.7 1450.9,683.9 1451.8,680 1452.7,680.6 1453.6,674.3 1454.5,680.3 1455.3,686.4 1456.2,683.6 1457.1,675.8 1458,683.9 1458.9,679.4 1459.8,679.1 1460.7,680.9 1461.5,680.9 1462.4,683.6 1463.3,688.5 1464.2,678.7 1465.1,687.4 1466,680 1466.9,676 1467.7,681.6 1468.6,674.6 1469.5,676 1470.4,678.7 1471.3,682.9 1472.2,676.6 1473,673.8 1473.9,680.9 1474.8,671.6 1475.7,666.7 1476.6,673.5 1477.5,663.2 1478.4,667.5 1479.2,668 1480.1,662.1 1481,667.7 1481.9,666.5 1482.8,665.8 1483.7,659.5 1484.6,664.6 1485.4,656.4 1486.3,661.8 1487.2,665.5 1488.1,666 1489,667 1489.9,665.8 1490.8,670.5 1491.6,662.7 1492.5,666.2 1493.4,672.9 1494.3,674.9 1495.2,676.9 1496.1,668 1497,675.2 1497.8,676 1498.7,680.6 1499.6,685.3 1500.5,684.3 1501.4,679.1 1502.3,687.1 1503.1,676 1504,674 1504.9,678.1 1505.8,686.4 1506.7,689.7 1507.6,685.6 1508.5,676.3 1509.3,677.8 1510.2,679.1 1511.1,690.4 1512,675.8 1512.9,682.9 1513.8,678.7 1514.7,683.9 1515.5,677.5 1516.4,683.6 1517.3,676.9 1518.2,676.9 1519.1,682.6 1520,686 1520.9,683.9 1521.7,675.8 1522.6,684.6 1523.5,680 1524.4,680 1525.3,681.9 1526.2,685.6 1527.1,683.9 1527.9,677.5 1528.8,692.8 1529.7,682.6 1530.6,680.9 1531.5,682.9 1532.4,689.3 1533.3,683.6 1534.1,679.7 1535,686 1535.9,686.7 1536.8,686.7 1537.7,680.3 1538.6,682.6 1539.4,683.9 1540.3,675.8 1541.2,684.9 1542.1,680.6 1543,682.2 1543.9,678.1 1544.8,681.6 1545.6,684.6 1546.5,683.6 1547.4,685.3 1548.3,681.9 1549.2,682.9 1550.1,682.6 1551,681.9 1551.8,680 1552.7,682.9 1553.6,681.3 1554.5,676.3 1555.4,683.2 1556.3,683.2 1557.2,682.6 1558,681.3 1558.9,679.1 1559.8,682.9 1560.7,681.3 1561.6,687.1 1562.5,680.3 1563.4,679.4 1564.2,681.9 1565.1,682.9 1566,679.1 1566.9,683.6 1567.8,683.6 1568.7,684.6 1569.5,685.6 1570.4,687.8 1571.3,680.3 1572.2,682.9 1573.1,685.6 1574,681.9 1574.9,684.6 1575.7,677.2 1576.6,686.4 1577.5,689.7 1578.4,684.6 1579.3,679.4 1580.2,677.5 1581.1,676.6 1581.9,679.7 1582.8,672.7 1583.7,679.4 1584.6,676.6 1585.5,678.1 1586.4,674.9 1587.3,679.7 1588.1,674.6 1589,676 1589.9,674.6 1590.8,674.9 1591.7,667.2 1592.6,674.6 1593.5,671.3 1594.3,668.7 1595.2,663 1596.1,664.8 1597,657.6 1597.9,656 1598.8,651.1 1599.7,648.6 1600.5,645 1601.4,639 1602.3,638.8 1603.2,636.1 1604.1,635.4 1605,630.1 1605.8,631.3 1606.7,626.7 1607.6,632 1608.5,628.7 1609.4,629.7 1610.3,631.7 1611.2,630.3 1612,635.3 1612.9,635 1613.8,646.9 1614.7,645.2 1615.6,649.3 1616.5,649 1617.4,657.4 1618.2,660.1 1619.1,660.1 1620,659.5 1620.9,670.5 1621.8,671.8 1622.7,669.5 1623.6,672.4 1624.4,672.7 1625.3,675.2 1626.2,673.5 1627.1,681.6 1628,682.9 1628.9,671 1629.8,683.2 1630.6,677.8 1631.5,673.2 1632.4,671.8 1633.3,671.3 1634.2,677.2 1635.1,679.4 1635.9,678.4 1636.8,674 1637.7,681.3 1638.6,674.3 1639.5,681.6 1640.4,680.6 1641.3,683.9 1642.1,677.8 1643,674 1643.9,683.9 1644.8,680.6 1645.7,679.7 1646.6,679.7 1647.5,680.6 1648.3,685.3 1649.2,680.3 1650.1,678.4 1651,672.9 1651.9,674.9 1652.8,684.9 1653.7,678.4 1654.5,679.4 1655.4,686.4 1656.3,678.1 1657.2,678.4 1658.1,686.7 1659,685.6 1659.9,680 1660.7,681.6 1661.6,690.1 1662.5,677.2 1663.4,680 1664.3,684.6 1665.2,683.6 1666.1,676 1666.9,676.9 1667.8,681.6 1668.7,679.7 1669.6,681.9 1670.5,681.6 1671.4,676.9 1672.2,676.3 1673.1,684.3 1674,684.6 1674.9,676 1675.8,681.6 1676.7,681.6 1677.6,680.9 1678.4,679.7 1679.3,682.6 1680.2,682.2 1681.1,676.9 1682,684.3 1682.9,676.3 1683.8,677.8 1684.6,683.2 1685.5,690.8 1686.4,691.6 1687.3,684.6 1688.2,685.6 1689.1,685.6 1690,678.4 1690.8,680.9 1691.7,686 1692.6,678.7 1693.5,686 1694.4,681.3 1695.3,687.1 1696.2,684.3 1697,684.9 1697.9,691.2 1698.8,680.9 1699.7,675.5 1700.6,688.5 1701.5,681.6 1702.3,672.1 1703.2,675.5 1704.1,676 1705,680.3 1705.9,680.6 1706.8,681.3 1707.7,685.6 1708.5,680 1709.4,683.6 1710.3,684.9 1711.2,675.5 1712.1,679.7 1713,676 1713.9,676.9 1714.7,674.3 1715.6,678.7 1716.5,682.2 1717.4,681.9 1718.3,685.6 1719.2,679.1 1720.1,682.9 1720.9,675.2 1721.8,682.6 1722.7,687.8 1723.6,678.1 1724.5,687.1 1725.4,682.6 1726.3,680.6 1727.1,673.5 1728,674.6 1728.9,674.6 1729.8,675.8 1730.7,682.9 1731.6,676 1732.5,678.1 1733.3,684.3 1734.2,676.6 1735.1,671.8 1736,674.6 1736.9,677.2 1737.8,679.4 1738.6,680.6 1739.5,677.2 1740.4,677.2 1741.3,670 1742.2,672.4 1743.1,676 1744,676.9 1744.8,677.5 1745.7,677.2 1746.6,680.6 1747.5,674 1748.4,671 1749.3,680.6 1750.2,669 1751,667 1751.9,659.7 1752.8,675.8 1753.7,661.4 1754.6,660.7 1755.5,651.3 1756.4,649.5 1757.2,645.5 1758.1,635.7 1759,632 1759.9,624.8 1760.8,617.8 1761.7,614 1762.6,609.1 1763.4,604.2 1764.3,593.4 1765.2,595.7 1766.1,586.9 1767,584.5 1767.9,580.6 1768.7,579.3 1769.6,573.7 1770.5,571.4 1771.4,572 1772.3,568.8 1773.2,569.1 1774.1,568.8 1774.9,568.9 1775.8,573.5 1776.7,576.1 1777.6,582.6 1778.5,582.8 1779.4,585 1780.3,589.9 1781.1,600.3 1782,602.6 1782.9,609.9 1783.8,611.1 1784.7,622.4 1785.6,627.8 1786.5,631 1787.3,641.5 1788.2,642.4 1789.1,650.2 1790,654.4 1790.9,657.2 1791.8,657.2 1792.7,664.1 1793.5,668.7 1794.4,668 1795.3,672.4 1796.2,676 1797.1,680.6 1798,675.5 1798.9,677.2 1799.7,676.6 1800.6,673.5 1801.5,673.8 1802.4,676.3 1803.3,673.8 1804.2,671.6 1805,682.6 1805.9,677.8 1806.8,677.2 1807.7,674.9 1808.6,679.1 1809.5,677.8 1810.4,674.3 1811.2,683.6 1812.1,680.9 1813,684.6 1813.9,674.3 1814.8,684.3 1815.7,673.5 1816.6,683.9 1817.4,676.3 1818.3,675.8 1819.2,677.8 1820.1,672.9 1821,678.4 1821.9,670.8 1822.8,672.7 1823.6,670.8 1824.5,670.8 1825.4,675.2 1826.3,673.8 1827.2,669.7 1828.1,676 1829,664.6 1829.8,674.3 1830.7,675.2 1831.6,666.5 1832.5,677.5 1833.4,672.1 1834.3,677.5 1835.1,681.3 1836,680.9 1836.9,679.1 1837.8,684.6 1838.7,675.2 1839.6,677.8 1840.5,677.5 1841.3,680.6 1842.2,683.2 1843.1,674.3 1844,680.9 1844.9,682.9 1845.8,679.1 1846.7,677.5 1847.5,679.4 1848.4,676 1849.3,692 1850.2,685.3 1851.1,673.5 1852,680.9 1852.9,679.4 1853.7,680.3 1854.6,680 1855.5,680 1856.4,683.6 1857.3,688.2 1858.2,680.9 1859.1,682.9 1859.9,675.2 1860.8,679.1 1861.7,683.6 1862.6,682.9 1863.5,683.6 1864.4,684.3 1865.3,680.3 1866.1,682.6 1867,687.8 1867.9,683.9 1868.8,686 1869.7,677.5 1870.6,679.4 1871.4,681.9 1872.3,677.5 1873.2,677.8 1874.1,680.6 1875,680.6 1875.9,682.9 1876.8,685.3 1877.6,677.8 1878.5,677.8 1879.4,682.2 1880.3,676.6 1881.2,675.5 1882.1,680.6 1883,683.9 1883.8,675.5 1884.7,680.3 1885.6,682.2 1886.5,685.3 1887.4,679.7 1888.3,682.9 1889.2,691.2 1890,679.1 1890.9,676 1891.8,683.9 1892.7,676.9 1893.6,675.5 1894.5,690.1 1895.4,679.4 1896.2,680.3 1897.1,677.8 1898,678.7 1898.9,671.3 1899.8,685.6 1900.7,676.3 1901.5,677.2 1902.4,678.4 1903.3,682.9 1904.2,684.3 1905.1,683.2 1906,676 1906.9,680.6 1907.7,690.1 1908.6,676.3 1909.5,684.6 1910.4,680.9 1911.3,678.1 1912.2,679.7 1913.1,686 1913.9,680.9 1914.8,677.8 1915.7,679.7 1916.6,680.6 1917.5,678.1 1918.4,681.3 1919.3,677.8 1920.1,684.6 1921,677.2 1921.9,683.6 1922.8,681.3 1923.7,681.9 1924.6,680.9 1925.5,679.7 1926.3,674 1927.2,671.6 1928.1,679.7 1929,689.7 1929.9,678.7 1930.8,680.3 1931.7,678.7 1932.5,684.3 1933.4,674 1934.3,680.6 1935.2,684.9 1936.1,683.2 1937,688.5 1937.8,676.3 1938.7,679.7 1939.6,681.6 1940.5,679.1 1941.4,679.4 1942.3,682.6 1943.2,683.6 1944,672.7 1944.9,680.3 1945.8,678.4 1946.7,680.9 1947.6,676.9 1948.5,679.7 1949.4,681.3 1950.2,684.6 1951.1,679.1 1952,680.6 1952.9,674.6 1953.8,680.9 1954.7,678.4 1955.6,678.4 1956.4,679.4 1957.3,681.6 1958.2,676.9 1959.1,682.6 1960,676.3 1960.9,679.7 1961.8,678.1 1962.6,681.6 1963.5,680 1964.4,679.7 1965.3,680 1966.2,684.9 1967.1,674.3 1967.9,681.6 1968.8,682.2 1969.7,671.6 1970.6,689.7 1971.5,678.7 1972.4,678.4 1973.3,683.9 1974.1,677.8 1975,676 1975.9,677.2 1976.8,681.9 1977.7,684.6 1978.6,678.4 1979.5,687.8 1980.3,676 1981.2,690.8 1982.1,675.8 1983,673.2 1983.9,676.9 1984.8,671 1985.7,681.9 1986.5,682.2 1987.4,679.4 1988.3,678.4 1989.2,675.2 1990.1,687.1 1991,688.5 1991.9,676.3 1992.7,680.9 1993.6,682.6 1994.5,676.6 1995.4,680.6 1996.3,680.6 1997.2,678.4 1998.1,678.4 1998.9,683.9 1999.8,680.6 2000.7,675.5 2001.6,685.3 2002.5,681.6 2003.4,676.6 2004.2,681.3 2005.1,672.7 2006,680.9 2006.9,683.2 2007.8,685.3 2008.7,680 2009.6,678.1 2010.4,674.9 2011.3,682.2 2012.2,678.1 2013.1,683.2 2014,678.4 2014.9,673.5 2015.8,679.7 2016.6,674.9 2017.5,677.2 2018.4,678.1 2019.3,676.9 2020.2,682.6 2021.1,677.2 2022,676.3 2022.8,686.4 2023.7,682.6 2024.6,678.4 2025.5,672.4 2026.4,682.2 2027.3,681.9 2028.2,676 2029,684.9 2029.9,683.9 2030.8,673.8 2031.7,674.3 2032.6,677.5 2033.5,678.7 2034.3,679.7 2035.2,681.9 2036.1,671.6 2037,680.9 2037.9,681.9 2038.8,676.6 2039.7,672.4 2040.5,680 2041.4,674.6 2042.3,677.2 2043.2,682.2 2044.1,675.2 2045,680 2045.9,677.2 2046.7,675.8 2047.6,677.2 2048.5,683.6 2049.4,673.2 2050.3,674.3 2051.2,680.6 2052.1,675.8 2052.9,675.5 2053.8,676.9 2054.7,681.6 2055.6,678.7 2056.5,678.4 2057.4,678.7 2058.3,680.3 2059.1,675.2 2060,679.7 2060.9,680.3 2061.8,676.9 2062.7,679.7 2063.6,693.6 2064.5,674.9 2065.3,682.2 2066.2,674 2067.1,684.3 2068,675.8 2068.9,674 2069.8,679.7 2070.6,673.5 2071.5,680.9"/>
<polyline clip-path="url(#c3)" fill="none" stroke="#006400" stroke-width="3.2" stroke-linejoin="round" stroke-linecap="round" points="256.6,1046.4 257.5,1026 258.4,1033.3 259.3,1040.8 260.1,1032.7 261,1043.5 261.9,1036.9 262.8,1038.2 263.7,1042.8 264.6,1026.6 265.5,1032.7 266.3,1053.3 267.2,1037.6 268.1,1035.7 269,1038.2 269.9,1044.2 270.8,1036.9 271.7,1049.3 272.5,1047.1 273.4,1037.6 274.3,1035.7 275.2,1044.9 276.1,1029.8 277,1035.1 277.8,1035.7 278.7,1046.4 279.6,1050.1 280.5,1035.1 281.4,1041.5 282.3,1054.9 283.2,1037.6 284,1034.5 284.9,1047.8 285.8,1035.1 286.7,1037.6 287.6,1047.8 288.5,1040.1 289.4,1041.5 290.2,1043.5 291.1,1033.3 292,1041.5 292.9,1042.8 293.8,1039.5 294.7,1035.1 295.6,1031 296.4,1027.6 297.3,1047.8 298.2,1043.5 299.1,1044.9 300,1040.8 300.9,1044.9 301.8,1031.5 302.6,1044.9 303.5,1047.8 304.4,1040.1 305.3,1043.5 306.2,1036.3 307.1,1032.1 307.9,1044.2 308.8,1045.6 309.7,1042.2 310.6,1035.1 311.5,1044.2 312.4,1033.3 313.3,1029.8 314.1,1044.9 315,1045.6 315.9,1038.8 316.8,1032.1 317.7,1027.6 318.6,1037.6 319.5,1032.1 320.3,1048.6 321.2,1039.5 322.1,1037.6 323,1048.6 323.9,1049.3 324.8,1033.9 325.7,1038.2 326.5,1044.9 327.4,1044.2 328.3,1036.3 329.2,1041.5 330.1,1049.3 331,1038.8 331.9,1041.5 332.7,1048.6 333.6,1043.5 334.5,1041.5 335.4,1042.8 336.3,1053.3 337.2,1035.1 338.1,1040.8 338.9,1036.9 339.8,1039.5 340.7,1043.5 341.6,1041.5 342.5,1041.5 343.4,1038.8 344.2,1035.1 345.1,1045.6 346,1046.4 346.9,1037.6 347.8,1031 348.7,1043.5 349.6,1036.3 350.4,1046.4 351.3,1035.1 352.2,1042.8 353.1,1036.3 354,1042.8 354.9,1031.5 355.8,1034.5 356.6,1045.6 357.5,1043.5 358.4,1037.6 359.3,1042.2 360.2,1043.5 361.1,1054.9 362,1041.5 362.8,1035.7 363.7,1039.5 364.6,1044.9 365.5,1037.6 366.4,1044.9 367.3,1044.2 368.2,1033.3 369,1043.5 369.9,1035.7 370.8,1040.8 371.7,1047.8 372.6,1054.1 373.5,1037.6 374.3,1047.8 375.2,1044.9 376.1,1050.1 377,1038.8 377.9,1035.7 378.8,1050.9 379.7,1039.5 380.5,1045.6 381.4,1029.3 382.3,1038.2 383.2,1048.6 384.1,1050.9 385,1042.8 385.9,1040.8 386.7,1036.3 387.6,1039.5 388.5,1042.8 389.4,1054.1 390.3,1034.5 391.2,1049.3 392.1,1047.8 392.9,1030.4 393.8,1040.8 394.7,1042.2 395.6,1043.5 396.5,1054.1 397.4,1048.6 398.3,1050.1 399.1,1045.6 400,1050.9 400.9,1045.6 401.8,1040.8 402.7,1039.5 403.6,1050.9 404.5,1040.8 405.3,1046.4 406.2,1061 407.1,1047.1 408,1044.9 408.9,1041.5 409.8,1042.2 410.6,1049.3 411.5,1055.8 412.4,1041.5 413.3,1045.6 414.2,1046.4 415.1,1040.1 416,1036.3 416.8,1045.6 417.7,1050.1 418.6,1041.5 419.5,1049.3 420.4,1040.8 421.3,1042.8 422.2,1044.2 423,1047.8 423.9,1044.2 424.8,1043.5 425.7,1055.8 426.6,1057.5 427.5,1045.6 428.4,1047.8 429.2,1059.2 430.1,1047.8 431,1044.2 431.9,1032.7 432.8,1042.8 433.7,1054.1 434.6,1036.3 435.4,1043.5 436.3,1050.9 437.2,1046.4 438.1,1048.6 439,1040.8 439.9,1039.5 440.7,1053.3 441.6,1035.1 442.5,1046.4 443.4,1035.7 444.3,1042.8 445.2,1045.6 446.1,1051.7 446.9,1054.1 447.8,1050.1 448.7,1050.9 449.6,1050.9 450.5,1035.7 451.4,1052.5 452.3,1054.1 453.1,1039.5 454,1047.1 454.9,1048.6 455.8,1047.8 456.7,1040.1 457.6,1053.3 458.5,1054.9 459.3,1049.3 460.2,1037.6 461.1,1052.5 462,1043.5 462.9,1048.6 463.8,1042.2 464.7,1061.9 465.5,1044.9 466.4,1050.1 467.3,1032.7 468.2,1046.4 469.1,1039.5 470,1055.8 470.9,1060.1 471.7,1040.8 472.6,1048.6 473.5,1048.6 474.4,1042.8 475.3,1055.8 476.2,1045.6 477,1047.1 477.9,1049.3 478.8,1043.5 479.7,1038.8 480.6,1059.2 481.5,1038.2 482.4,1060.1 483.2,1051.7 484.1,1042.2 485,1047.8 485.9,1053.3 486.8,1050.1 487.7,1037.6 488.6,1042.2 489.4,1039.5 490.3,1058.3 491.2,1049.3 492.1,1042.8 493,1041.5 493.9,1052.5 494.8,1045.6 495.6,1050.1 496.5,1040.1 497.4,1045.6 498.3,1050.9 499.2,1053.3 500.1,1045.6 501,1046.4 501.8,1052.5 502.7,1036.9 503.6,1043.5 504.5,1046.4 505.4,1036.3 506.3,1045.6 507.1,1058.3 508,1043.5 508.9,1042.2 509.8,1051.7 510.7,1044.9 511.6,1054.9 512.5,1049.3 513.3,1048.6 514.2,1045.6 515.1,1048.6 516,1044.9 516.9,1054.9 517.8,1048.6 518.7,1051.7 519.5,1054.1 520.4,1047.8 521.3,1037.6 522.2,1049.3 523.1,1045.6 524,1051.7 524.9,1047.1 525.7,1050.9 526.6,1042.2 527.5,1045.6 528.4,1054.1 529.3,1050.1 530.2,1050.9 531.1,1055.8 531.9,1059.2 532.8,1042.8 533.7,1045.6 534.6,1036.9 535.5,1058.3 536.4,1040.8 537.3,1050.1 538.1,1043.5 539,1050.1 539.9,1047.1 540.8,1044.9 541.7,1049.3 542.6,1040.8 543.4,1048.6 544.3,1050.9 545.2,1042.8 546.1,1049.3 547,1050.1 547.9,1050.9 548.8,1046.4 549.6,1040.8 550.5,1033.3 551.4,1036.3 552.3,1055.8 553.2,1038.2 554.1,1047.8 555,1035.7 555.8,1057.5 556.7,1035.7 557.6,1044.9 558.5,1040.8 559.4,1048.6 560.3,1042.2 561.2,1049.3 562,1055.8 562.9,1047.1 563.8,1045.6 564.7,1044.9 565.6,1050.9 566.5,1038.2 567.4,1047.8 568.2,1033.9 569.1,1052.5 570,1036.9 570.9,1040.1 571.8,1051.7 572.7,1032.1 573.5,1037.6 574.4,1062.9 575.3,1038.8 576.2,1038.8 577.1,1038.2 578,1040.8 578.9,1046.4 579.7,1048.6 580.6,1038.8 581.5,1047.8 582.4,1045.6 583.3,1033.9 584.2,1054.9 585.1,1044.2 585.9,1038.2 586.8,1037.6 587.7,1040.1 588.6,1044.2 589.5,1044.9 590.4,1032.7 591.3,1040.1 592.1,1050.9 593,1046.4 593.9,1036.3 594.8,1037.6 595.7,1047.8 596.6,1038.8 597.5,1032.7 598.3,1050.1 599.2,1039.5 600.1,1044.2 601,1042.2 601.9,1040.1 602.8,1046.4 603.7,1035.1 604.5,1050.9 605.4,1043.5 606.3,1036.9 607.2,1042.8 608.1,1040.1 609,1043.5 609.8,1036.3 610.7,1040.8 611.6,1045.6 612.5,1035.1 613.4,1043.5 614.3,1046.4 615.2,1040.1 616,1048.6 616.9,1044.2 617.8,1038.8 618.7,1045.6 619.6,1041.5 620.5,1047.1 621.4,1036.9 622.2,1036.9 623.1,1053.3 624,1050.1 624.9,1036.3 625.8,1034.5 626.7,1040.8 627.6,1042.8 628.4,1052.5 629.3,1037.6 630.2,1038.8 631.1,1036.3 632,1034.5 632.9,1043.5 633.8,1028.2 634.6,1040.1 635.5,1031 636.4,1032.7 637.3,1038.8 638.2,1032.7 639.1,1033.3 639.9,1061.9 640.8,1037.6 641.7,1038.8 642.6,1036.3 643.5,1031.5 644.4,1040.8 645.3,1028.2 646.1,1047.8 647,1044.2 647.9,1038.8 648.8,1042.8 649.7,1032.1 650.6,1038.2 651.5,1035.1 652.3,1041.5 653.2,1040.8 654.1,1035.1 655,1044.9 655.9,1037.6 656.8,1044.9 657.7,1030.4 658.5,1031.5 659.4,1038.8 660.3,1035.1 661.2,1041.5 662.1,1042.2 663,1029.3 663.9,1034.5 664.7,1038.8 665.6,1033.3 666.5,1029.3 667.4,1042.2 668.3,1037.6 669.2,1035.1 670.1,1044.2 670.9,1033.9 671.8,1040.8 672.7,1035.7 673.6,1041.5 674.5,1031 675.4,1044.2 676.2,1037.6 677.1,1029.8 678,1036.3 678.9,1035.1 679.8,1028.7 680.7,1028.7 681.6,1033.9 682.4,1029.3 683.3,1038.8 684.2,1042.8 685.1,1042.8 686,1031 686.9,1039.5 687.8,1035.1 688.6,1027.6 689.5,1029.8 690.4,1037.6 691.3,1034.5 692.2,1035.1 693.1,1032.1 694,1032.1 694.8,1031.5 695.7,1035.1 696.6,1041.5 697.5,1031 698.4,1025 699.3,1027.6 700.2,1034.5 701,1031 701.9,1030.4 702.8,1042.8 703.7,1028.2 704.6,1051.7 705.5,1029.8 706.3,1035.7 707.2,1035.7 708.1,1035.1 709,1035.7 709.9,1032.1 710.8,1029.8 711.7,1023 712.5,1040.8 713.4,1035.7 714.3,1033.3 715.2,1039.5 716.1,1033.9 717,1035.1 717.9,1035.1 718.7,1029.3 719.6,1028.7 720.5,1031 721.4,1037.6 722.3,1028.7 723.2,1038.2 724.1,1038.2 724.9,1031 725.8,1035.1 726.7,1031 727.6,1021 728.5,1023 729.4,1027.1 730.3,1032.1 731.1,1031 732,1028.2 732.9,1036.3 733.8,1025 734.7,1033.9 735.6,1030.4 736.5,1026.6 737.3,1031 738.2,1036.9 739.1,1040.8 740,1033.9 740.9,1038.8 741.8,1032.7 742.6,1025 743.5,1027.1 744.4,1031 745.3,1032.1 746.2,1028.7 747.1,1033.9 748,1029.3 748.8,1032.1 749.7,1035.7 750.6,1031 751.5,1034.5 752.4,1029.3 753.3,1030.4 754.2,1026 755,1016.8 755.9,1037.6 756.8,1033.9 757.7,1036.3 758.6,1027.1 759.5,1025 760.4,1032.1 761.2,1027.6 762.1,1034.5 763,1027.6 763.9,1026 764.8,1021.5 765.7,1034.5 766.6,1036.9 767.4,1024 768.3,1027.1 769.2,1017.7 770.1,1031 771,1036.9 771.9,1031 772.7,1045.6 773.6,1030.4 774.5,1026 775.4,1026 776.3,1028.7 777.2,1028.2 778.1,1026 778.9,1025.5 779.8,1020.5 780.7,1024.5 781.6,1028.7 782.5,1015.4 783.4,1025 784.3,1028.7 785.1,1025.5 786,1022.5 786.9,1027.6 787.8,1025.5 788.7,1015.4 789.6,1032.1 790.5,1029.8 791.3,1023.5 792.2,1019.5 793.1,1016.8 794,1022.5 794.9,1015.4 795.8,1035.1 796.7,1029.8 797.5,1015.4 798.4,1027.6 799.3,1028.7 800.2,1028.7 801.1,1025 802,1015 802.9,1024.5 803.7,1018.6 804.6,1027.1 805.5,1027.6 806.4,1023 807.3,1028.2 808.2,1027.1 809,1022.5 809.9,1023.5 810.8,1036.3 811.7,1022 812.6,1024 813.5,1028.7 814.4,1037.6 815.2,1021 816.1,1031 817,1031 817.9,1021 818.8,1025 819.7,1027.1 820.6,1024 821.4,1028.2 822.3,1032.7 823.2,1028.2 824.1,1026.6 825,1025.5 825.9,1025.5 826.8,1028.7 827.6,1022 828.5,1036.3 829.4,1025 830.3,1021.5 831.2,1022 832.1,1027.6 833,1033.3 833.8,1033.3 834.7,1023 835.6,1016.8 836.5,1021 837.4,1032.1 838.3,1033.9 839.1,1022 840,1018.6 840.9,1022.5 841.8,1029.8 842.7,1037.6 843.6,1025.5 844.5,1030.4 845.3,1016.3 846.2,1033.3 847.1,1025 848,1020.5 848.9,1021 849.8,1019.1 850.7,1025 851.5,1017.2 852.4,1017.2 853.3,1023.5 854.2,1017.7 855.1,1008.3 856,1008.3 856.9,1019.5 857.7,1015 858.6,1020 859.5,1001.1 860.4,1004 861.3,1001.8 862.2,994.7 863.1,985.2 863.9,975.7 864.8,967.3 865.7,951.5 866.6,928.7 867.5,909.9 868.4,907.1 869.3,910.8 870.1,930.5 871,946 871.9,964.4 872.8,975 873.7,876.5 874.6,700.7 875.4,619.6 876.3,646.9 877.2,781.8 878.1,972.3 879,1020 879.9,1010.3 880.8,1032.1 881.6,1017.2 882.5,1019.5 883.4,1028.2 884.3,1024.5 885.2,1027.6 886.1,1031 887,1029.8 887.8,1032.1 888.7,1046.4 889.6,1034.5 890.5,1035.1 891.4,1043.5 892.3,1042.2 893.2,1037.6 894,1038.8 894.9,1046.4 895.8,1025 896.7,1036.3 897.6,1040.8 898.5,1039.5 899.4,1039.5 900.2,1041.5 901.1,1032.1 902,1044.2 902.9,1036.3 903.8,1035.7 904.7,1038.8 905.5,1042.8 906.4,1044.2 907.3,1051.7 908.2,1042.2 909.1,1045.6 910,1057.5 910.9,1036.9 911.7,1040.1 912.6,1042.8 913.5,1036.9 914.4,1043.5 915.3,1045.6 916.2,1038.2 917.1,1050.1 917.9,1037.6 918.8,1051.7 919.7,1050.9 920.6,1039.5 921.5,1044.2 922.4,1054.9 923.3,1052.5 924.1,1044.9 925,1034.5 925.9,1039.5 926.8,1046.4 927.7,1044.9 928.6,1047.8 929.5,1055.8 930.3,1039.5 931.2,1049.3 932.1,1038.2 933,1042.2 933.9,1036.9 934.8,1045.6 935.7,1044.9 936.5,1050.1 937.4,1043.5 938.3,1059.2 939.2,1053.3 940.1,1047.1 941,1069.9 941.8,1049.3 942.7,1048.6 943.6,1054.1 944.5,1046.4 945.4,1046.4 946.3,1042.8 947.2,1057.5 948,1050.9 948.9,1044.9 949.8,1044.2 950.7,1046.4 951.6,1045.6 952.5,1050.1 953.4,1057.5 954.2,1054.9 955.1,1046.4 956,1054.9 956.9,1054.9 957.8,1050.1 958.7,1057.5 959.6,1043.5 960.4,1045.6 961.3,1055.8 962.2,1054.1 963.1,1063.8 964,1051.7 964.9,1053.3 965.8,1053.3 966.6,1057.5 967.5,1042.8 968.4,1054.1 969.3,1054.9 970.2,1047.8 971.1,1058.3 971.9,1069.9 972.8,1068.8 973.7,1052.5 974.6,1060.1 975.5,1051.7 976.4,1044.2 977.3,1038.2 978.1,1047.1 979,1044.9 979.9,1056.6 980.8,1051.7 981.7,1054.9 982.6,1056.6 983.5,1037.6 984.3,1060.1 985.2,1052.5 986.1,1047.1 987,1054.9 987.9,1068.8 988.8,1047.1 989.7,1061.9 990.5,1060.1 991.4,1062.9 992.3,1053.3 993.2,1056.6 994.1,1069.9 995,1051.7 995.9,1047.8 996.7,1050.1 997.6,1051.7 998.5,1054.9 999.4,1060.1 1000.3,1064.8 1001.2,1062.9 1002.1,1063.8 1002.9,1051.7 1003.8,1049.3 1004.7,1052.5 1005.6,1054.9 1006.5,1053.3 1007.4,1054.1 1008.2,1055.8 1009.1,1047.8 1010,1048.6 1010.9,1073.1 1011.8,1070.9 1012.7,1050.1 1013.6,1054.9 1014.4,1054.9 1015.3,1058.3 1016.2,1061.9 1017.1,1060.1 1018,1041.5 1018.9,1052.5 1019.8,1061 1020.6,1078.9 1021.5,1053.3 1022.4,1059.2 1023.3,1053.3 1024.2,1046.4 1025.1,1043.5 1026,1058.3 1026.8,1066.8 1027.7,1055.8 1028.6,1062.9 1029.5,1056.6 1030.4,1051.7 1031.3,1055.8 1032.2,1051.7 1033,1040.1 1033.9,1052.5 1034.8,1055.8 1035.7,1063.8 1036.6,1055.8 1037.5,1059.2 1038.3,1051.7 1039.2,1057.5 1040.1,1046.4 1041,1054.1 1041.9,1040.1 1042.8,1056.6 1043.7,1058.3 1044.5,1053.3 1045.4,1050.9 1046.3,1059.2 1047.2,1051.7 1048.1,1050.1 1049,1054.9 1049.9,1059.2 1050.7,1060.1 1051.6,1052.5 1052.5,1052.5 1053.4,1063.8 1054.3,1058.3 1055.2,1075.4 1056.1,1048.6 1056.9,1047.1 1057.8,1065.8 1058.7,1053.3 1059.6,1058.3 1060.5,1056.6 1061.4,1057.5 1062.3,1051.7 1063.1,1049.3 1064,1056.6 1064.9,1062.9 1065.8,1050.9 1066.7,1051.7 1067.6,1059.2 1068.5,1058.3 1069.3,1057.5 1070.2,1056.6 1071.1,1059.2 1072,1047.1 1072.9,1055.8 1073.8,1062.9 1074.6,1055.8 1075.5,1053.3 1076.4,1066.8 1077.3,1072 1078.2,1057.5 1079.1,1067.8 1080,1055.8 1080.8,1060.1 1081.7,1056.6 1082.6,1044.2 1083.5,1050.9 1084.4,1063.8 1085.3,1061 1086.2,1056.6 1087,1055.8 1087.9,1058.3 1088.8,1061 1089.7,1061 1090.6,1063.8 1091.5,1055.8 1092.4,1051.7 1093.2,1060.1 1094.1,1055.8 1095,1067.8 1095.9,1061.9 1096.8,1054.9 1097.7,1052.5 1098.6,1049.3 1099.4,1072 1100.3,1061.9 1101.2,1064.8 1102.1,1061.9 1103,1048.6 1103.9,1058.3 1104.7,1049.3 1105.6,1057.5 1106.5,1056.6 1107.4,1052.5 1108.3,1054.9 1109.2,1053.3 1110.1,1042.8 1110.9,1047.8 1111.8,1062.9 1112.7,1050.9 1113.6,1062.9 1114.5,1049.3 1115.4,1055.8 1116.3,1064.8 1117.1,1066.8 1118,1075.4 1118.9,1057.5 1119.8,1061 1120.7,1058.3 1121.6,1055.8 1122.5,1054.1 1123.3,1052.5 1124.2,1057.5 1125.1,1054.9 1126,1049.3 1126.9,1036.3 1127.8,1044.9 1128.7,1056.6 1129.5,1067.8 1130.4,1062.9 1131.3,1046.4 1132.2,1047.8 1133.1,1058.3 1134,1066.8 1134.9,1050.1 1135.7,1059.2 1136.6,1050.9 1137.5,1051.7 1138.4,1055.8 1139.3,1061.9 1140.2,1063.8 1141,1067.8 1141.9,1065.8 1142.8,1031.5 1143.7,1053.3 1144.6,1050.1 1145.5,1061.9 1146.4,1056.6 1147.2,1056.6 1148.1,1051.7 1149,1056.6 1149.9,1049.3 1150.8,1049.3 1151.7,1061 1152.6,1053.3 1153.4,1055.8 1154.3,1061.9 1155.2,1057.5 1156.1,1062.9 1157,1050.1 1157.9,1056.6 1158.8,1066.8 1159.6,1049.3 1160.5,1051.7 1161.4,1060.1 1162.3,1042.2 1163.2,1051.7 1164.1,1064.8 1165,1072 1165.8,1054.1 1166.7,1063.8 1167.6,1070.9 1168.5,1055.8 1169.4,1047.1 1170.3,1059.2 1171.1,1053.3 1172,1050.1 1172.9,1055.8 1173.8,1062.9 1174.7,1051.7 1175.6,1047.1 1176.5,1060.1 1177.3,1058.3 1178.2,1067.8 1179.1,1043.5 1180,1063.8 1180.9,1057.5 1181.8,1063.8 1182.7,1074.2 1183.5,1061.9 1184.4,1050.9 1185.3,1064.8 1186.2,1054.1 1187.1,1065.8 1188,1050.1 1188.9,1070.9 1189.7,1057.5 1190.6,1056.6 1191.5,1069.9 1192.4,1053.3 1193.3,1050.9 1194.2,1060.1 1195.1,1054.9 1195.9,1065.8 1196.8,1057.5 1197.7,1054.1 1198.6,1062.9 1199.5,1062.9 1200.4,1066.8 1201.3,1056.6 1202.1,1055.8 1203,1043.5 1203.9,1053.3 1204.8,1058.3 1205.7,1060.1 1206.6,1063.8 1207.4,1053.3 1208.3,1055.8 1209.2,1050.1 1210.1,1062.9 1211,1060.1 1211.9,1057.5 1212.8,1048.6 1213.6,1057.5 1214.5,1050.9 1215.4,1061 1216.3,1049.3 1217.2,1058.3 1218.1,1054.9 1219,1049.3 1219.8,1049.3 1220.7,1061 1221.6,1057.5 1222.5,1053.3 1223.4,1050.1 1224.3,1061.9 1225.2,1062.9 1226,1063.8 1226.9,1058.3 1227.8,1052.5 1228.7,1056.6 1229.6,1052.5 1230.5,1076.5 1231.4,1064.8 1232.2,1061.9 1233.1,1075.4 1234,1070.9 1234.9,1049.3 1235.8,1066.8 1236.7,1074.2 1237.5,1067.8 1238.4,1067.8 1239.3,1052.5 1240.2,1065.8 1241.1,1051.7 1242,1052.5 1242.9,1053.3 1243.7,1047.8 1244.6,1065.8 1245.5,1050.9 1246.4,1043.5 1247.3,1047.1 1248.2,1053.3 1249.1,1061.9 1249.9,1058.3 1250.8,1055.8 1251.7,1049.3 1252.6,1060.1 1253.5,1065.8 1254.4,1059.2 1255.3,1055.8 1256.1,1060.1 1257,1065.8 1257.9,1072 1258.8,1076.5 1259.7,1054.1 1260.6,1054.1 1261.5,1053.3 1262.3,1062.9 1263.2,1075.4 1264.1,1054.1 1265,1056.6 1265.9,1061 1266.8,1057.5 1267.7,1055.8 1268.5,1067.8 1269.4,1069.9 1270.3,1072 1271.2,1048.6 1272.1,1061.9 1273,1073.1 1273.8,1052.5 1274.7,1059.2 1275.6,1074.2 1276.5,1055.8 1277.4,1068.8 1278.3,1058.3 1279.2,1055.8 1280,1051.7 1280.9,1067.8 1281.8,1063.8 1282.7,1058.3 1283.6,1059.2 1284.5,1050.1 1285.4,1054.9 1286.2,1073.1 1287.1,1069.9 1288,1059.2 1288.9,1050.1 1289.8,1044.2 1290.7,1050.9 1291.6,1049.3 1292.4,1050.9 1293.3,1059.2 1294.2,1049.3 1295.1,1054.9 1296,1061.9 1296.9,1063.8 1297.8,1052.5 1298.6,1067.8 1299.5,1054.9 1300.4,1061.9 1301.3,1054.9 1302.2,1054.9 1303.1,1059.2 1303.9,1054.1 1304.8,1058.3 1305.7,1056.6 1306.6,1065.8 1307.5,1057.5 1308.4,1072 1309.3,1050.9 1310.1,1077.7 1311,1055.8 1311.9,1044.9 1312.8,1063.8 1313.7,1063.8 1314.6,1058.3 1315.5,1058.3 1316.3,1053.3 1317.2,1053.3 1318.1,1075.4 1319,1061.9 1319.9,1052.5 1320.8,1055.8 1321.7,1051.7 1322.5,1058.3 1323.4,1047.1 1324.3,1054.9 1325.2,1054.9 1326.1,1076.5 1327,1059.2 1327.9,1050.9 1328.7,1056.6 1329.6,1069.9 1330.5,1068.8 1331.4,1057.5 1332.3,1064.8 1333.2,1052.5 1334.1,1052.5 1334.9,1053.3 1335.8,1068.8 1336.7,1057.5 1337.6,1053.3 1338.5,1060.1 1339.4,1056.6 1340.2,1073.1 1341.1,1052.5 1342,1054.9 1342.9,1054.1 1343.8,1065.8 1344.7,1054.9 1345.6,1054.9 1346.4,1057.5 1347.3,1057.5 1348.2,1059.2 1349.1,1050.1 1350,1039.5 1350.9,1054.1 1351.8,1060.1 1352.6,1054.1 1353.5,1055.8 1354.4,1068.8 1355.3,1050.9 1356.2,1080.1 1357.1,1056.6 1358,1058.3 1358.8,1056.6 1359.7,1065.8 1360.6,1054.1 1361.5,1061 1362.4,1058.3 1363.3,1045.6 1364.2,1059.2 1365,1044.9 1365.9,1048.6 1366.8,1042.2 1367.7,1060.1 1368.6,1059.2 1369.5,1062.9 1370.3,1048.6 1371.2,1042.2 1372.1,1044.9 1373,1041.5 1373.9,1040.1 1374.8,1042.2 1375.7,1033.9 1376.5,1036.9 1377.4,1038.2 1378.3,1038.2 1379.2,1039.5 1380.1,1037.6 1381,1035.1 1381.9,1040.1 1382.7,1033.3 1383.6,1039.5 1384.5,1044.9 1385.4,1040.8 1386.3,1034.5 1387.2,1046.4 1388.1,1052.5 1388.9,1044.9 1389.8,1067.8 1390.7,1051.7 1391.6,1065.8 1392.5,1072 1393.4,1041.5 1394.3,1056.6 1395.1,1045.6 1396,1051.7 1396.9,1070.9 1397.8,1056.6 1398.7,1044.9 1399.6,1055.8 1400.5,1057.5 1401.3,1057.5 1402.2,1063.8 1403.1,1064.8 1404,1058.3 1404.9,1054.1 1405.8,1062.9 1406.6,1065.8 1407.5,1060.1 1408.4,1044.2 1409.3,1060.1 1410.2,1058.3 1411.1,1052.5 1412,1056.6 1412.8,1059.2 1413.7,1061.9 1414.6,1058.3 1415.5,1059.2 1416.4,1054.9 1417.3,1064.8 1418.2,1084 1419,1062.9 1419.9,1069.9 1420.8,1063.8 1421.7,1060.1 1422.6,1052.5 1423.5,1057.5 1424.4,1057.5 1425.2,1065.8 1426.1,1078.9 1427,1059.2 1427.9,1061.9 1428.8,1052.5 1429.7,1066.8 1430.6,1072 1431.4,1061.9 1432.3,1065.8 1433.2,1061.9 1434.1,1051.7 1435,1072 1435.9,1060.1 1436.7,1061 1437.6,1060.1 1438.5,1064.8 1439.4,1065.8 1440.3,1061 1441.2,1041.5 1442.1,1049.3 1442.9,1068.8 1443.8,1054.9 1444.7,1059.2 1445.6,1067.8 1446.5,1062.9 1447.4,1061 1448.3,1060.1 1449.1,1069.9 1450,1052.5 1450.9,1067.8 1451.8,1075.4 1452.7,1056.6 1453.6,1064.8 1454.5,1073.1 1455.3,1065.8 1456.2,1053.3 1457.1,1056.6 1458,1039.5 1458.9,1054.9 1459.8,1054.9 1460.7,1049.3 1461.5,1068.8 1462.4,1053.3 1463.3,1072 1464.2,1061 1465.1,1061 1466,1057.5 1466.9,1054.1 1467.7,1057.5 1468.6,1051.7 1469.5,1050.9 1470.4,1056.6 1471.3,1064.8 1472.2,1060.1 1473,1073.1 1473.9,1072 1474.8,1056.6 1475.7,1070.9 1476.6,1060.1 1477.5,1081.4 1478.4,1062.9 1479.2,1048.6 1480.1,1064.8 1481,1067.8 1481.9,1061.9 1482.8,1056.6 1483.7,1050.1 1484.6,1064.8 1485.4,1066.8 1486.3,1050.9 1487.2,1063.8 1488.1,1062.9 1489,1070.9 1489.9,1054.1 1490.8,1061 1491.6,1059.2 1492.5,1061.9 1493.4,1047.1 1494.3,1058.3 1495.2,1053.3 1496.1,1057.5 1497,1064.8 1497.8,1075.4 1498.7,1066.8 1499.6,1061 1500.5,1054.1 1501.4,1072 1502.3,1064.8 1503.1,1061 1504,1068.8 1504.9,1061 1505.8,1054.1 1506.7,1049.3 1507.6,1054.1 1508.5,1062.9 1509.3,1054.9 1510.2,1069.9 1511.1,1075.4 1512,1068.8 1512.9,1059.2 1513.8,1072 1514.7,1067.8 1515.5,1055.8 1516.4,1060.1 1517.3,1075.4 1518.2,1069.9 1519.1,1060.1 1520,1066.8 1520.9,1057.5 1521.7,1068.8 1522.6,1065.8 1523.5,1059.2 1524.4,1062.9 1525.3,1068.8 1526.2,1068.8 1527.1,1056.6 1527.9,1076.5 1528.8,1054.9 1529.7,1054.9 1530.6,1058.3 1531.5,1076.5 1532.4,1053.3 1533.3,1059.2 1534.1,1059.2 1535,1061 1535.9,1061 1536.8,1070.9 1537.7,1044.2 1538.6,1072 1539.4,1069.9 1540.3,1072 1541.2,1050.9 1542.1,1072 1543,1055.8 1543.9,1065.8 1544.8,1054.1 1545.6,1072 1546.5,1062.9 1547.4,1067.8 1548.3,1061 1549.2,1049.3 1550.1,1069.9 1551,1052.5 1551.8,1053.3 1552.7,1065.8 1553.6,1063.8 1554.5,1057.5 1555.4,1059.2 1556.3,1074.2 1557.2,1056.6 1558,1059.2 1558.9,1059.2 1559.8,1073.1 1560.7,1063.8 1561.6,1054.9 1562.5,1068.8 1563.4,1062.9 1564.2,1065.8 1565.1,1063.8 1566,1063.8 1566.9,1069.9 1567.8,1061 1568.7,1066.8 1569.5,1056.6 1570.4,1062.9 1571.3,1059.2 1572.2,1066.8 1573.1,1065.8 1574,1066.8 1574.9,1059.2 1575.7,1063.8 1576.6,1061 1577.5,1085.3 1578.4,1063.8 1579.3,1070.9 1580.2,1068.8 1581.1,1066.8 1581.9,1056.6 1582.8,1073.1 1583.7,1047.8 1584.6,1052.5 1585.5,1055.8 1586.4,1061.9 1587.3,1072 1588.1,1070.9 1589,1054.1 1589.9,1050.1 1590.8,1069.9 1591.7,1068.8 1592.6,1063.8 1593.5,1063.8 1594.3,1057.5 1595.2,1056.6 1596.1,1076.5 1597,1065.8 1597.9,1058.3 1598.8,1062.9 1599.7,1050.1 1600.5,1065.8 1601.4,1050.1 1602.3,1060.1 1603.2,1051.7 1604.1,1078.9 1605,1066.8 1605.8,1066.8 1606.7,1059.2 1607.6,1068.8 1608.5,1061.9 1609.4,1056.6 1610.3,1057.5 1611.2,1061 1612,1052.5 1612.9,1050.1 1613.8,1057.5 1614.7,1069.9 1615.6,1062.9 1616.5,1061 1617.4,1072 1618.2,1063.8 1619.1,1065.8 1620,1061.9 1620.9,1061 1621.8,1060.1 1622.7,1062.9 1623.6,1063.8 1624.4,1062.9 1625.3,1080.1 1626.2,1049.3 1627.1,1058.3 1628,1057.5 1628.9,1061 1629.8,1063.8 1630.6,1068.8 1631.5,1058.3 1632.4,1070.9 1633.3,1077.7 1634.2,1062.9 1635.1,1066.8 1635.9,1062.9 1636.8,1073.1 1637.7,1046.4 1638.6,1069.9 1639.5,1059.2 1640.4,1054.1 1641.3,1050.9 1642.1,1062.9 1643,1082.7 1643.9,1055.8 1644.8,1054.9 1645.7,1060.1 1646.6,1067.8 1647.5,1047.1 1648.3,1062.9 1649.2,1060.1 1650.1,1057.5 1651,1061.9 1651.9,1069.9 1652.8,1074.2 1653.7,1062.9 1654.5,1047.8 1655.4,1062.9 1656.3,1057.5 1657.2,1061.9 1658.1,1049.3 1659,1081.4 1659.9,1053.3 1660.7,1052.5 1661.6,1056.6 1662.5,1064.8 1663.4,1065.8 1664.3,1051.7 1665.2,1057.5 1666.1,1068.8 1666.9,1064.8 1667.8,1062.9 1668.7,1064.8 1669.6,1066.8 1670.5,1068.8 1671.4,1054.1 1672.2,1062.9 1673.1,1050.1 1674,1061 1674.9,1057.5 1675.8,1055.8 1676.7,1061 1677.6,1060.1 1678.4,1073.1 1679.3,1052.5 1680.2,1063.8 1681.1,1059.2 1682,1072 1682.9,1073.1 1683.8,1069.9 1684.6,1069.9 1685.5,1060.1 1686.4,1064.8 1687.3,1064.8 1688.2,1056.6 1689.1,1063.8 1690,1072 1690.8,1063.8 1691.7,1063.8 1692.6,1054.1 1693.5,1066.8 1694.4,1054.9 1695.3,1063.8 1696.2,1058.3 1697,1081.4 1697.9,1063.8 1698.8,1075.4 1699.7,1068.8 1700.6,1065.8 1701.5,1054.9 1702.3,1081.4 1703.2,1054.1 1704.1,1061.9 1705,1047.8 1705.9,1063.8 1706.8,1055.8 1707.7,1059.2 1708.5,1061 1709.4,1066.8 1710.3,1062.9 1711.2,1066.8 1712.1,1082.7 1713,1069.9 1713.9,1069.9 1714.7,1069.9 1715.6,1065.8 1716.5,1065.8 1717.4,1060.1 1718.3,1065.8 1719.2,1063.8 1720.1,1069.9 1720.9,1051.7 1721.8,1069.9 1722.7,1065.8 1723.6,1047.8 1724.5,1075.4 1725.4,1061 1726.3,1069.9 1727.1,1070.9 1728,1069.9 1728.9,1072 1729.8,1057.5 1730.7,1064.8 1731.6,1063.8 1732.5,1066.8 1733.3,1054.9 1734.2,1066.8 1735.1,1053.3 1736,1070.9 1736.9,1065.8 1737.8,1062.9 1738.6,1070.9 1739.5,1066.8 1740.4,1055.8 1741.3,1054.1 1742.2,1054.1 1743.1,1069.9 1744,1064.8 1744.8,1070.9 1745.7,1062.9 1746.6,1055.8 1747.5,1060.1 1748.4,1060.1 1749.3,1065.8 1750.2,1073.1 1751,1064.8 1751.9,1058.3 1752.8,1051.7 1753.7,1062.9 1754.6,1064.8 1755.5,1059.2 1756.4,1050.1 1757.2,1062.9 1758.1,1080.1 1759,1061 1759.9,1056.6 1760.8,1075.4 1761.7,1063.8 1762.6,1072 1763.4,1057.5 1764.3,1063.8 1765.2,1059.2 1766.1,1061 1767,1069.9 1767.9,1058.3 1768.7,1055.8 1769.6,1061.9 1770.5,1061.9 1771.4,1063.8 1772.3,1065.8 1773.2,1067.8 1774.1,1059.2 1774.9,1074.2 1775.8,1081.4 1776.7,1073.1 1777.6,1061 1778.5,1065.8 1779.4,1058.3 1780.3,1059.2 1781.1,1065.8 1782,1058.3 1782.9,1077.7 1783.8,1075.4 1784.7,1063.8 1785.6,1074.2 1786.5,1046.4 1787.3,1054.1 1788.2,1054.1 1789.1,1052.5 1790,1053.3 1790.9,1051.7 1791.8,1063.8 1792.7,1065.8 1793.5,1069.9 1794.4,1061 1795.3,1057.5 1796.2,1064.8 1797.1,1069.9 1798,1045.6 1798.9,1072 1799.7,1067.8 1800.6,1059.2 1801.5,1074.2 1802.4,1075.4 1803.3,1062.9 1804.2,1056.6 1805,1077.7 1805.9,1066.8 1806.8,1056.6 1807.7,1058.3 1808.6,1073.1 1809.5,1057.5 1810.4,1070.9 1811.2,1053.3 1812.1,1060.1 1813,1060.1 1813.9,1059.2 1814.8,1059.2 1815.7,1065.8 1816.6,1093.9 1817.4,1060.1 1818.3,1075.4 1819.2,1060.1 1820.1,1057.5 1821,1055.8 1821.9,1062.9 1822.8,1064.8 1823.6,1069.9 1824.5,1067.8 1825.4,1059.2 1826.3,1066.8 1827.2,1056.6 1828.1,1064.8 1829,1059.2 1829.8,1050.1 1830.7,1064.8 1831.6,1069.9 1832.5,1062.9 1833.4,1070.9 1834.3,1061 1835.1,1057.5 1836,1054.9 1836.9,1068.8 1837.8,1056.6 1838.7,1066.8 1839.6,1063.8 1840.5,1065.8 1841.3,1066.8 1842.2,1069.9 1843.1,1062.9 1844,1077.7 1844.9,1055.8 1845.8,1054.9 1846.7,1066.8 1847.5,1055.8 1848.4,1054.9 1849.3,1074.2 1850.2,1063.8 1851.1,1067.8 1852,1063.8 1852.9,1057.5 1853.7,1059.2 1854.6,1070.9 1855.5,1068.8 1856.4,1068.8 1857.3,1054.1 1858.2,1061 1859.1,1066.8 1859.9,1056.6 1860.8,1069.9 1861.7,1062.9 1862.6,1056.6 1863.5,1073.1 1864.4,1076.5 1865.3,1045.6 1866.1,1069.9 1867,1067.8 1867.9,1067.8 1868.8,1066.8 1869.7,1070.9 1870.6,1068.8 1871.4,1062.9 1872.3,1065.8 1873.2,1069.9 1874.1,1065.8 1875,1067.8 1875.9,1061 1876.8,1055.8 1877.6,1054.9 1878.5,1057.5 1879.4,1063.8 1880.3,1064.8 1881.2,1067.8 1882.1,1067.8 1883,1054.1 1883.8,1065.8 1884.7,1058.3 1885.6,1061.9 1886.5,1064.8 1887.4,1048.6 1888.3,1062.9 1889.2,1065.8 1890,1063.8 1890.9,1059.2 1891.8,1046.4 1892.7,1076.5 1893.6,1058.3 1894.5,1061 1895.4,1055.8 1896.2,1073.1 1897.1,1062.9 1898,1072 1898.9,1061.9 1899.8,1072 1900.7,1069.9 1901.5,1053.3 1902.4,1062.9 1903.3,1054.9 1904.2,1061 1905.1,1062.9 1906,1074.2 1906.9,1067.8 1907.7,1062.9 1908.6,1069.9 1909.5,1062.9 1910.4,1055.8 1911.3,1059.2 1912.2,1061.9 1913.1,1060.1 1913.9,1058.3 1914.8,1065.8 1915.7,1058.3 1916.6,1054.1 1917.5,1064.8 1918.4,1060.1 1919.3,1055.8 1920.1,1049.3 1921,1067.8 1921.9,1068.8 1922.8,1060.1 1923.7,1059.2 1924.6,1053.3 1925.5,1057.5 1926.3,1062.9 1927.2,1056.6 1928.1,1059.2 1929,1075.4 1929.9,1056.6 1930.8,1054.9 1931.7,1061.9 1932.5,1059.2 1933.4,1046.4 1934.3,1057.5 1935.2,1045.6 1936.1,1057.5 1937,1072 1937.8,1069.9 1938.7,1070.9 1939.6,1049.3 1940.5,1053.3 1941.4,1063.8 1942.3,1067.8 1943.2,1058.3 1944,1057.5 1944.9,1076.5 1945.8,1061.9 1946.7,1056.6 1947.6,1056.6 1948.5,1061 1949.4,1067.8 1950.2,1052.5 1951.1,1054.1 1952,1052.5 1952.9,1055.8 1953.8,1053.3 1954.7,1054.1 1955.6,1044.2 1956.4,1065.8 1957.3,1052.5 1958.2,1053.3 1959.1,1056.6 1960,1062.9 1960.9,1058.3 1961.8,1072 1962.6,1059.2 1963.5,1051.7 1964.4,1060.1 1965.3,1070.9 1966.2,1057.5 1967.1,1066.8 1967.9,1062.9 1968.8,1059.2 1969.7,1048.6 1970.6,1056.6 1971.5,1061 1972.4,1061 1973.3,1053.3 1974.1,1066.8 1975,1059.2 1975.9,1058.3 1976.8,1061 1977.7,1059.2 1978.6,1058.3 1979.5,1061.9 1980.3,1070.9 1981.2,1055.8 1982.1,1075.4 1983,1056.6 1983.9,1057.5 1984.8,1077.7 1985.7,1063.8 1986.5,1049.3 1987.4,1042.8 1988.3,1061 1989.2,1057.5 1990.1,1061 1991,1053.3 1991.9,1050.1 1992.7,1055.8 1993.6,1061.9 1994.5,1054.9 1995.4,1063.8 1996.3,1050.1 1997.2,1064.8 1998.1,1046.4 1998.9,1066.8 1999.8,1060.1 2000.7,1073.1 2001.6,1061.9 2002.5,1052.5 2003.4,1054.9 2004.2,1057.5 2005.1,1064.8 2006,1060.1 2006.9,1054.9 2007.8,1046.4 2008.7,1047.1 2009.6,1048.6 2010.4,1059.2 2011.3,1059.2 2012.2,1047.8 2013.1,1047.1 2014,1050.9 2014.9,1059.2 2015.8,1050.9 2016.6,1050.1 2017.5,1050.9 2018.4,1061 2019.3,1044.9 2020.2,1054.9 2021.1,1045.6 2022,1059.2 2022.8,1064.8 2023.7,1064.8 2024.6,1058.3 2025.5,1054.9 2026.4,1058.3 2027.3,1053.3 2028.2,1053.3 2029,1054.9 2029.9,1053.3 2030.8,1058.3 2031.7,1053.3 2032.6,1051.7 2033.5,1043.5 2034.3,1040.1 2035.2,1048.6 2036.1,1061.9 2037,1059.2 2037.9,1050.9 2038.8,1042.8 2039.7,1061 2040.5,1054.1 2041.4,1064.8 2042.3,1059.2 2043.2,1036.9 2044.1,1040.1 2045,1048.6 2045.9,1061.9 2046.7,1041.5 2047.6,1050.1 2048.5,1050.9 2049.4,1043.5 2050.3,1057.5 2051.2,1054.1 2052.1,1053.3 2052.9,1058.3 2053.8,1052.5 2054.7,1054.1 2055.6,1051.7 2056.5,1044.2 2057.4,1061 2058.3,1045.6 2059.1,1051.7 2060,1058.3 2060.9,1046.4 2061.8,1044.9 2062.7,1044.9 2063.6,1056.6 2064.5,1040.8 2065.3,1044.9 2066.2,1047.8 2067.1,1043.5 2068,1050.1 2068.9,1051.7 2069.8,1061.9 2070.6,1048.6 2071.5,1056.6"/>
<polyline clip-path="url(#c4)" fill="none" stroke="#c80000" stroke-width="4.7" stroke-linejoin="round" stroke-linecap="round" points="254,1394.6 254.9,1401.8 255.8,1403.6 256.7,1400.7 257.5,1404.8 258.4,1402.4 259.3,1407.3 260.2,1412.5 261.1,1407.2 262,1398.4 262.9,1395.2 263.7,1401.3 264.6,1400.7 265.5,1399 266.4,1413.1 267.3,1407.9 268.2,1404.8 269.1,1399 269.9,1403 270.8,1409.8 271.7,1403.6 272.6,1408.5 273.5,1396.8 274.4,1403.6 275.3,1411.8 276.1,1406.7 277,1403.6 277.9,1405.4 278.8,1401.8 279.7,1394.6 280.6,1404.8 281.5,1401.3 282.3,1393.1 283.2,1406.7 284.1,1401.8 285,1402.4 285.9,1397.9 286.8,1403.6 287.6,1423.9 288.5,1414.5 289.4,1394.1 290.3,1404.2 291.2,1397.3 292.1,1411.1 293,1411.8 293.8,1398.4 294.7,1393.1 295.6,1402.4 296.5,1415.2 297.4,1404.8 298.3,1400.7 299.2,1414.5 300,1410.5 300.9,1408.5 301.8,1398.4 302.7,1409.2 303.6,1394.6 304.5,1401.3 305.4,1405.4 306.2,1406.7 307.1,1424.4 308,1415.2 308.9,1430.6 309.8,1411.8 310.7,1406 311.6,1407.9 312.4,1411.1 313.3,1407.3 314.2,1411.8 315.1,1408.5 316,1418.8 316.9,1405.4 317.8,1412.5 318.6,1406 319.5,1407.3 320.4,1416.2 321.3,1410.5 322.2,1394.6 323.1,1413.1 324,1401.3 324.8,1401.8 325.7,1411.8 326.6,1415.2 327.5,1396.8 328.4,1413.8 329.3,1400.7 330.2,1403 331,1408.5 331.9,1404.8 332.8,1407.9 333.7,1401.8 334.6,1423.8 335.5,1420.8 336.4,1422.9 337.2,1395.7 338.1,1405.4 339,1402.4 339.9,1408.5 340.8,1416.6 341.7,1405.4 342.6,1405.4 343.4,1405.4 344.3,1407.3 345.2,1392.5 346.1,1416.6 347,1412.7 347.9,1404.2 348.8,1447.3 349.6,1401.3 350.5,1427.2 351.4,1403.6 352.3,1406.7 353.2,1412.5 354.1,1421 354.9,1406.7 355.8,1406 356.7,1403.6 357.6,1411.1 358.5,1413.8 359.4,1396.2 360.3,1409.2 361.1,1397.3 362,1415.9 362.9,1410.5 363.8,1411.1 364.7,1392.5 365.6,1418 366.5,1407.9 367.3,1411.8 368.2,1422.5 369.1,1407.3 370,1408.5 370.9,1411.8 371.8,1430 372.7,1418.8 373.5,1407.9 374.4,1402.4 375.3,1403.6 376.2,1417 377.1,1407.9 378,1414.5 378.9,1404.8 379.7,1400.1 380.6,1401.8 381.5,1409.2 382.4,1412.5 383.3,1409.2 384.2,1424 385.1,1406.7 385.9,1403 386.8,1418 387.7,1411.2 388.6,1407.3 389.5,1413.8 390.4,1411.8 391.3,1410.5 392.1,1395.7 393,1405.4 393.9,1415.2 394.8,1417.3 395.7,1418 396.6,1403 397.5,1418.8 398.3,1409.8 399.2,1411.1 400.1,1426 401,1449.7 401.9,1400.1 402.8,1414.5 403.7,1419.5 404.5,1406 405.4,1423.3 406.3,1408.5 407.2,1406.7 408.1,1395.7 409,1410.5 409.9,1408.5 410.7,1413.5 411.6,1413.2 412.5,1415.9 413.4,1410.5 414.3,1395.2 415.2,1411.8 416.1,1395.2 416.9,1412.5 417.8,1408.5 418.7,1413.8 419.6,1401.8 420.5,1407.3 421.4,1411.8 422.2,1409.8 423.1,1418.8 424,1411.8 424.9,1404.8 425.8,1417.3 426.7,1409.8 427.6,1404.8 428.4,1421 429.3,1402.4 430.2,1412.5 431.1,1400.1 432,1413.1 432.9,1405.9 433.8,1409.8 434.6,1404.2 435.5,1417.3 436.4,1411.1 437.3,1407.9 438.2,1423.3 439.1,1432.9 440,1413.1 440.8,1411.5 441.7,1419.5 442.6,1422.5 443.5,1410.5 444.4,1421 445.3,1404.2 446.2,1413.8 447,1403 447.9,1415.9 448.8,1421 449.7,1411.8 450.6,1405.4 451.5,1418 452.4,1401.3 453.2,1411.8 454.1,1416.6 455,1411.1 455.9,1419.5 456.8,1413.1 457.7,1411.8 458.6,1409.8 459.4,1406.7 460.3,1413.8 461.2,1412.5 462.1,1409.8 463,1431.2 463.9,1415.2 464.8,1408.5 465.6,1418 466.5,1417.3 467.4,1422.5 468.3,1411.8 469.2,1411.1 470.1,1416.6 471,1424.8 471.8,1417.3 472.7,1412.5 473.6,1416.6 474.5,1405.4 475.4,1404.8 476.3,1415.2 477.2,1410.5 478,1413.1 478.9,1413.8 479.8,1418.8 480.7,1422.5 481.6,1409.2 482.5,1409.8 483.4,1417.3 484.2,1415.2 485.1,1400.7 486,1434.3 486.9,1410.5 487.8,1397.7 488.7,1419.5 489.5,1415.2 490.4,1403 491.3,1413 492.2,1423.3 493.1,1415.9 494,1411.8 494.9,1412.5 495.7,1419.5 496.6,1421 497.5,1405.4 498.4,1416.5 499.3,1413.1 500.2,1407.9 501.1,1427.2 501.9,1410.5 502.8,1422.5 503.7,1427.2 504.6,1404.8 505.5,1419.5 506.4,1413.8 507.3,1409.2 508.1,1415.9 509,1421 509.9,1418 510.8,1411.8 511.7,1416.6 512.6,1415.2 513.5,1414.5 514.3,1433 515.2,1416.6 516.1,1429.7 517,1425.6 517.9,1414.5 518.8,1407.3 519.7,1406 520.5,1416.2 521.4,1406.7 522.3,1431.4 523.2,1413.1 524.1,1412.5 525,1411.1 525.9,1409.2 526.7,1411.1 527.6,1406.7 528.5,1416.6 529.4,1407.5 530.3,1433.8 531.2,1421.7 532.1,1420.2 532.9,1414.5 533.8,1413.8 534.7,1416.6 535.6,1420.2 536.5,1414.5 537.4,1421 538.3,1411.8 539.1,1421 540,1423.3 540.9,1421.7 541.8,1425.6 542.7,1418 543.6,1425.6 544.5,1404.8 545.3,1416.6 546.2,1421.7 547.1,1413.1 548,1413.8 548.9,1416.6 549.8,1409.8 550.7,1407.3 551.5,1416.6 552.4,1412.5 553.3,1413.8 554.2,1424.8 555.1,1418.8 556,1417.3 556.8,1422.5 557.7,1427.6 558.6,1409.8 559.5,1405.4 560.4,1410.5 561.3,1418 562.2,1421 563,1409.2 563.9,1406 564.8,1428.6 565.7,1432.3 566.6,1419.5 567.5,1421.7 568.4,1409.8 569.2,1403.6 570.1,1407.3 571,1411.1 571.9,1415.2 572.8,1408.5 573.7,1402.4 574.6,1411.8 575.4,1411.1 576.3,1408.5 577.2,1421.7 578.1,1401.3 579,1406 579.9,1415.9 580.8,1401.8 581.6,1400.7 582.5,1415.8 583.4,1411.1 584.3,1407.3 585.2,1408.9 586.1,1401.8 587,1407.3 587.8,1417.3 588.7,1420 589.6,1417.3 590.5,1399.6 591.4,1408.5 592.3,1401.3 593.2,1416.6 594,1409.2 594.9,1420.2 595.8,1400.1 596.7,1413.8 597.6,1401.3 598.5,1411.8 599.4,1403.6 600.2,1415.2 601.1,1394.1 602,1418.8 602.9,1411.1 603.8,1411.1 604.7,1413.1 605.6,1414.5 606.4,1421 607.3,1404.8 608.2,1401.3 609.1,1414.5 610,1417.3 610.9,1415.2 611.8,1415.2 612.6,1409.2 613.5,1401.3 614.4,1391 615.3,1398.4 616.2,1413.8 617.1,1417.3 618,1422 618.8,1417.3 619.7,1400.7 620.6,1412.5 621.5,1403.6 622.4,1403.6 623.3,1428.1 624.1,1406.7 625,1408.5 625.9,1401.3 626.8,1407.9 627.7,1415.2 628.6,1410.5 629.5,1395.7 630.3,1416.6 631.2,1410.5 632.1,1418 633,1411.8 633.9,1418.8 634.8,1410.5 635.7,1420.2 636.5,1409.8 637.4,1413.1 638.3,1411.8 639.2,1412.5 640.1,1415.2 641,1412.5 641.9,1407.9 642.7,1409.8 643.6,1408.5 644.5,1396.2 645.4,1421 646.3,1411.1 647.2,1406 648.1,1409.8 648.9,1403 649.8,1420.2 650.7,1414.5 651.6,1408.5 652.5,1410.5 653.4,1401.3 654.3,1395.2 655.1,1409.8 656,1400.1 656.9,1417.3 657.8,1408.5 658.7,1407.9 659.6,1404.8 660.5,1417.3 661.3,1403.6 662.2,1388.5 663.1,1422.5 664,1401.8 664.9,1403.6 665.8,1403.6 666.7,1406.7 667.5,1413.1 668.4,1407.3 669.3,1402.4 670.2,1407.3 671.1,1404.2 672,1399.6 672.9,1406.7 673.7,1403.6 674.6,1414.5 675.5,1408.5 676.4,1402.4 677.3,1400.1 678.2,1412.5 679.1,1395.7 679.9,1413.8 680.8,1402.4 681.7,1420.2 682.6,1402.4 683.5,1398.4 684.4,1394.1 685.3,1404.8 686.1,1406 687,1396.2 687.9,1409.2 688.8,1416.6 689.7,1406 690.6,1409.8 691.4,1403.4 692.3,1414.5 693.2,1386.1 694.1,1407.3 695,1401.3 695.9,1405.4 696.8,1409.8 697.6,1396.2 698.5,1413.8 699.4,1408.5 700.3,1405.4 701.2,1411.8 702.1,1406 703,1397.9 703.8,1404.8 704.7,1408.5 705.6,1400.7 706.5,1395.7 707.4,1413.1 708.3,1407.3 709.2,1398.4 710,1395.2 710.9,1406.7 711.8,1417.3 712.7,1421 713.6,1401.8 714.5,1407.3 715.4,1406 716.2,1404.8 717.1,1410.5 718,1401.3 718.9,1392 719.8,1397.9 720.7,1397.9 721.6,1410.5 722.4,1402.4 723.3,1411.8 724.2,1395.7 725.1,1397.3 726,1413 726.9,1407.9 727.8,1403.6 728.6,1400.1 729.5,1420.6 730.4,1403 731.3,1402.4 732.2,1404.2 733.1,1416.6 734,1406.7 734.8,1403.6 735.7,1409.8 736.6,1404.2 737.5,1417.9 738.4,1409.2 739.3,1411.1 740.2,1397.9 741,1392.5 741.9,1409.2 742.8,1418 743.7,1408.5 744.6,1401.8 745.5,1407.9 746.4,1404.2 747.2,1399 748.1,1410.5 749,1423.9 749.9,1403 750.8,1426.4 751.7,1401.3 752.5,1417 753.4,1407.3 754.3,1399 755.2,1397.9 756.1,1412.5 757,1406.7 757.9,1404.2 758.7,1410.4 759.6,1398.4 760.5,1401.8 761.4,1404.8 762.3,1420.2 763.2,1395.7 764.1,1407.3 764.9,1412.1 765.8,1406.7 766.7,1422.5 767.6,1403.6 768.5,1400.1 769.4,1399.6 770.3,1403 771.1,1408.5 772,1411.1 772.9,1399 773.8,1403 774.7,1405.4 775.6,1407.9 776.5,1404.2 777.3,1404.8 778.2,1428.1 779.1,1409.2 780,1408.5 780.9,1406 781.8,1407.3 782.7,1411.1 783.5,1406.7 784.4,1403.6 785.3,1406.7 786.2,1404.2 787.1,1398.4 788,1406 788.9,1401.8 789.7,1400.1 790.6,1405.4 791.5,1387.1 792.4,1411.8 793.3,1414.5 794.2,1398.4 795.1,1418.8 795.9,1409.8 796.8,1399.6 797.7,1394.1 798.6,1400.7 799.5,1399.6 800.4,1404.8 801.3,1399 802.1,1412.5 803,1396.8 803.9,1406 804.8,1413.1 805.7,1393.1 806.6,1409.8 807.5,1404.2 808.3,1400.7 809.2,1423.3 810.1,1407.3 811,1402.4 811.9,1403.6 812.8,1406.7 813.7,1411.8 814.5,1410 815.4,1401.3 816.3,1407.9 817.2,1399.6 818.1,1417.3 819,1411.1 819.8,1407.3 820.7,1397.9 821.6,1406 822.5,1408.3 823.4,1404.8 824.3,1411.8 825.2,1403 826,1400.7 826.9,1411.1 827.8,1415.9 828.7,1410.4 829.6,1413.1 830.5,1409.8 831.4,1405.4 832.2,1403.6 833.1,1413.1 834,1403.6 834.9,1397.3 835.8,1400.1 836.7,1406.7 837.6,1401.3 838.4,1406.7 839.3,1415.2 840.2,1415.9 841.1,1408.5 842,1406 842.9,1412.5 843.8,1405.4 844.6,1399 845.5,1397.9 846.4,1407.9 847.3,1403 848.2,1403.6 849.1,1404.2 850,1403.9 850.8,1400.1 851.7,1396.8 852.6,1391 853.5,1387.6 854.4,1382.5 855.3,1382 856.2,1383.8 857,1363.8 857.9,1350.1 858.8,1346.6 859.7,1336.7 860.6,1329.3 861.5,1306.7 862.4,1297.1 863.2,1279.1 864.1,1281.8 865,1276.8 865.9,1267.1 866.8,1259.4 867.7,1252.6 868.6,1253.8 869.4,1247.3 870.3,1224.7 871.2,1190 872.1,1053.4 873,955.9 873.9,955.9 874.8,1053.3 875.6,1202.4 876.5,1272.5 877.4,1333.4 878.3,1367.8 879.2,1405.4 880.1,1418.8 881,1413.8 881.8,1417.3 882.7,1407.3 883.6,1411.1 884.5,1418 885.4,1415.7 886.3,1418.8 887.1,1417.1 888,1405.3 888.9,1410.5 889.8,1419.5 890.7,1406.7 891.6,1409.2 892.5,1413.8 893.3,1414.6 894.2,1415.9 895.1,1411.1 896,1417.3 896.9,1411.1 897.8,1411.8 898.7,1411.8 899.5,1421.1 900.4,1422.5 901.3,1418 902.2,1411.1 903.1,1420.2 904,1416.6 904.9,1397.9 905.7,1429.7 906.6,1416.6 907.5,1416.6 908.4,1413.8 909.3,1409.8 910.2,1409.8 911.1,1404.8 911.9,1420.2 912.8,1417.3 913.7,1404.2 914.6,1422.5 915.5,1424 916.4,1417.3 917.3,1410.5 918.1,1414.5 919,1418.8 919.9,1428.9 920.8,1416.6 921.7,1413.1 922.6,1428.1 923.5,1423.3 924.3,1421 925.2,1413.1 926.1,1416.6 927,1424.8 927.9,1415.9 928.8,1418.8 929.7,1409.8 930.5,1431.4 931.4,1419.5 932.3,1422.5 933.2,1424.8 934.1,1420.2 935,1431.4 935.9,1421.7 936.7,1421 937.6,1418.8 938.5,1411.1 939.4,1418 940.3,1411.1 941.2,1426.4 942.1,1415.2 942.9,1418 943.8,1411.5 944.7,1418 945.6,1434.1 946.5,1420.2 947.4,1420.2 948.3,1424.8 949.1,1435.9 950,1413.1 950.9,1426.4 951.8,1426.4 952.7,1430.6 953.6,1436.8 954.4,1422.5 955.3,1434.1 956.2,1444.4 957.1,1435 958,1440.7 958.9,1424.8 959.8,1428.9 960.6,1410.5 961.5,1433.2 962.4,1427.2 963.3,1421.4 964.2,1418.8 965.1,1422.5 966,1428.9 966.8,1435.9 967.7,1417.3 968.6,1427.2 969.5,1424 970.4,1415.9 971.3,1422.5 972.2,1427.2 973,1412.5 973.9,1427.2 974.8,1418.8 975.7,1426.5 976.6,1424.8 977.5,1435 978.4,1435.9 979.2,1444.6 980.1,1426.4 981,1434.1 981.9,1418 982.8,1427.2 983.7,1423.3 984.6,1433.2 985.4,1416.6 986.3,1419.5 987.2,1428.1 988.1,1420.2 989,1449.9 989.9,1418 990.8,1430.6 991.6,1436.8 992.5,1435.9 993.4,1428.9 994.3,1434.1 995.2,1416.6 996.1,1435.4 997,1436.8 997.8,1429.7 998.7,1431.4 999.6,1428.1 1000.5,1437.7 1001.4,1439.6 1002.3,1435 1003.2,1438.7 1004,1424 1004.9,1435.9 1005.8,1420.2 1006.7,1425.6 1007.6,1428.9 1008.5,1435 1009.4,1424.8 1010.2,1445.7 1011.1,1415.2 1012,1418.8 1012.9,1423.3 1013.8,1435.9 1014.7,1436.8 1015.6,1426.4 1016.4,1437.7 1017.3,1426.4 1018.2,1423.3 1019.1,1437.7 1020,1428.1 1020.9,1435 1021.7,1435 1022.6,1444.6 1023.5,1426.4 1024.4,1432.3 1025.3,1435 1026.2,1420.2 1027.1,1411.1 1027.9,1420.2 1028.8,1420.2 1029.7,1424.8 1030.6,1428.9 1031.5,1415.9 1032.4,1415.9 1033.3,1427.2 1034.1,1434.1 1035,1413.1 1035.9,1428.9 1036.8,1408.5 1037.7,1425.6 1038.6,1418.8 1039.5,1419.5 1040.3,1422.5 1041.2,1428.1 1042.1,1417.3 1043,1431.4 1043.9,1420.2 1044.8,1418.2 1045.7,1415.2 1046.5,1427.2 1047.4,1425.6 1048.3,1414.5 1049.2,1418 1050.1,1415.2 1051,1418 1051.9,1425.6 1052.7,1409.2 1053.6,1414.5 1054.5,1407.3 1055.4,1405.4 1056.3,1413.1 1057.2,1400.7 1058.1,1406 1058.9,1409.7 1059.8,1406 1060.7,1399.6 1061.6,1395.2 1062.5,1405.4 1063.4,1397.9 1064.3,1400.7 1065.1,1400.1 1066,1389 1066.9,1405.4 1067.8,1387.6 1068.7,1392 1069.6,1386.1 1070.5,1389 1071.3,1385.7 1072.2,1387.6 1073.1,1389 1074,1374.8 1074.9,1381.1 1075.8,1379.4 1076.7,1392 1077.5,1395.2 1078.4,1371.6 1079.3,1366 1080.2,1392.6 1081.1,1363.1 1082,1366.3 1082.9,1362.8 1083.7,1367.8 1084.6,1355.8 1085.5,1369.3 1086.4,1359.1 1087.3,1356.5 1088.2,1362.1 1089,1359.4 1089.9,1358.7 1090.8,1354.9 1091.7,1362.8 1092.6,1353.7 1093.5,1348.3 1094.4,1354.6 1095.2,1356.2 1096.1,1350.1 1097,1346.9 1097.9,1358.1 1098.8,1354.6 1099.7,1358.7 1100.6,1354 1101.4,1352.4 1102.3,1351.8 1103.2,1348.6 1104.1,1346.6 1105,1359.1 1105.9,1359.7 1106.8,1357.8 1107.6,1363.1 1108.5,1363.5 1109.4,1356.5 1110.3,1351 1111.2,1365.6 1112.1,1359.1 1113,1354.6 1113.8,1361.7 1114.7,1360.4 1115.6,1354.6 1116.5,1368.2 1117.4,1378.5 1118.3,1364.2 1119.2,1372.8 1120,1372 1120.9,1374 1121.8,1376 1122.7,1401.8 1123.6,1385.2 1124.5,1367.1 1125.4,1378.9 1126.2,1406.7 1127.1,1375.2 1128,1394.6 1128.9,1388.1 1129.8,1384.3 1130.7,1400.1 1131.6,1409.2 1132.4,1400.1 1133.3,1398.4 1134.2,1391.5 1135.1,1394.2 1136,1394.6 1136.9,1411.8 1137.8,1388.1 1138.6,1401.8 1139.5,1395.2 1140.4,1406 1141.3,1411.1 1142.2,1429.7 1143.1,1419.5 1144,1408.5 1144.8,1409.2 1145.7,1413.8 1146.6,1414.5 1147.5,1401.3 1148.4,1420.2 1149.3,1417.3 1150.2,1417.3 1151,1446.5 1151.9,1430.6 1152.8,1413.1 1153.7,1418 1154.6,1407.9 1155.5,1425.6 1156.3,1443 1157.2,1414.5 1158.1,1407.3 1159,1425.6 1159.9,1435.6 1160.8,1418.8 1161.7,1424 1162.5,1416.6 1163.4,1426.4 1164.3,1418 1165.2,1414.5 1166.1,1411.8 1167,1420.2 1167.9,1417.3 1168.7,1404.8 1169.6,1432.3 1170.5,1406.7 1171.4,1443.6 1172.3,1409.8 1173.2,1420.9 1174.1,1422.5 1174.9,1420.2 1175.8,1417.3 1176.7,1428.1 1177.6,1418.8 1178.5,1415.2 1179.4,1425.6 1180.3,1430.6 1181.1,1423.3 1182,1431.4 1182.9,1437.7 1183.8,1434.1 1184.7,1421.7 1185.6,1435.3 1186.5,1438.7 1187.3,1419.5 1188.2,1423.3 1189.1,1415.2 1190,1431.4 1190.9,1433.2 1191.8,1421.7 1192.7,1426.4 1193.5,1426.4 1194.4,1435 1195.3,1422.5 1196.2,1419.5 1197.1,1414.5 1198,1442.6 1198.9,1424.8 1199.7,1435 1200.6,1412.5 1201.5,1447.7 1202.4,1428.9 1203.3,1425.6 1204.2,1435 1205.1,1424.8 1205.9,1430.6 1206.8,1423.3 1207.7,1437.7 1208.6,1434.1 1209.5,1441.6 1210.4,1435 1211.3,1452.2 1212.1,1435 1213,1422.5 1213.9,1433.2 1214.8,1431.4 1215.7,1446.4 1216.6,1438.7 1217.4,1435.9 1218.3,1433.2 1219.2,1428.1 1220.1,1426.4 1221,1435.9 1221.9,1442.6 1222.8,1436.8 1223.6,1440.1 1224.5,1440.6 1225.4,1436.8 1226.3,1442.4 1227.2,1426.4 1228.1,1455.7 1229,1430.6 1229.8,1431.4 1230.7,1422.5 1231.6,1432.3 1232.5,1447.8 1233.4,1439.6 1234.3,1435.9 1235.2,1435.9 1236,1451.1 1236.9,1440.6 1237.8,1438.7 1238.7,1434.1 1239.6,1437.7 1240.5,1444.6 1241.4,1422.5 1242.2,1426.4 1243.1,1423.3 1244,1438.7 1244.9,1438.7 1245.8,1435.9 1246.7,1447.8 1247.6,1433.2 1248.4,1420.3 1249.3,1435 1250.2,1440.6 1251.1,1430.6 1252,1425.6 1252.9,1435 1253.8,1423.5 1254.6,1421 1255.5,1419.5 1256.4,1445.3 1257.3,1423.3 1258.2,1433.2 1259.1,1422.5 1260,1427.2 1260.8,1430.6 1261.7,1437.5 1262.6,1424.8 1263.5,1436.8 1264.4,1432.3 1265.3,1435.9 1266.2,1438.7 1267,1428.9 1267.9,1415.2 1268.8,1442.6 1269.7,1430.6 1270.6,1424 1271.5,1434.1 1272.4,1439.6 1273.2,1434.1 1274.1,1428.1 1275,1422.5 1275.9,1418.8 1276.8,1428.9 1277.7,1435 1278.6,1432.3 1279.4,1433.2 1280.3,1421.1 1281.2,1432.3 1282.1,1428.1 1283,1416.6 1283.9,1436.8 1284.7,1418.8 1285.6,1416.6 1286.5,1414.5 1287.4,1444.5 1288.3,1426.4 1289.2,1442.6 1290.1,1427.2 1290.9,1419.5 1291.8,1442.6 1292.7,1441.6 1293.6,1426.4 1294.5,1439.6 1295.4,1452.5 1296.3,1428.1 1297.1,1431.4 1298,1433.2 1298.9,1413.1 1299.8,1432.3 1300.7,1443.6 1301.6,1428.9 1302.5,1416.6 1303.3,1420.2 1304.2,1426.4 1305.1,1421 1306,1427.2 1306.9,1424.8 1307.8,1419.9 1308.7,1423.3 1309.5,1419.5 1310.4,1417.3 1311.3,1426.4 1312.2,1419.5 1313.1,1413.1 1314,1417.3 1314.9,1411.1 1315.7,1418 1316.6,1429.7 1317.5,1415.9 1318.4,1418.8 1319.3,1404.8 1320.2,1420.2 1321.1,1427.2 1321.9,1404.8 1322.8,1418 1323.7,1404.8 1324.6,1414.5 1325.5,1412.5 1326.4,1406 1327.3,1399.6 1328.1,1404.8 1329,1399 1329.9,1413.8 1330.8,1405.4 1331.7,1411.8 1332.6,1396.8 1333.5,1415.2 1334.3,1394.1 1335.2,1395.7 1336.1,1404.2 1337,1430.7 1337.9,1400.7 1338.8,1401.3 1339.7,1404.2 1340.5,1401.3 1341.4,1382.5 1342.3,1386.1 1343.2,1396.8 1344.1,1380.7 1345,1393.6 1345.9,1400.3 1346.7,1392.5 1347.6,1376.4 1348.5,1385.2 1349.4,1380.7 1350.3,1388.5 1351.2,1378.1 1352,1389 1352.9,1377.7 1353.8,1393.1 1354.7,1391.5 1355.6,1376.4 1356.5,1382.9 1357.4,1391 1358.2,1363.1 1359.1,1375.2 1360,1378.9 1360.9,1377.7 1361.8,1381.1 1362.7,1372.8 1363.6,1382.5 1364.4,1380.2 1365.3,1383.4 1366.2,1370.8 1367.1,1372.4 1368,1382.5 1368.9,1373.6 1369.8,1382.4 1370.6,1376 1371.5,1377.7 1372.4,1370.4 1373.3,1376.4 1374.2,1375.2 1375.1,1370.4 1376,1379.4 1376.8,1376.8 1377.7,1379.8 1378.6,1381.1 1379.5,1380.7 1380.4,1377.7 1381.3,1380.2 1382.2,1369.7 1383,1388.5 1383.9,1383.8 1384.8,1379.4 1385.7,1384.3 1386.6,1383.9 1387.5,1384.3 1388.4,1389 1389.2,1390 1390.1,1403.4 1391,1388.1 1391.9,1383.4 1392.8,1374.8 1393.7,1373.6 1394.6,1389.5 1395.4,1381.1 1396.3,1382.5 1397.2,1397.3 1398.1,1397.3 1399,1404.8 1399.9,1396.8 1400.8,1401.8 1401.6,1393.6 1402.5,1396.2 1403.4,1394.1 1404.3,1405.4 1405.2,1403.6 1406.1,1397.9 1407,1404.2 1407.8,1396.8 1408.7,1409.8 1409.6,1410.5 1410.5,1401.8 1411.4,1409.2 1412.3,1407.9 1413.2,1410.5 1414,1402.4 1414.9,1409.8 1415.8,1407.3 1416.7,1424.8 1417.6,1420.2 1418.5,1432.3 1419.3,1404.8 1420.2,1416.6 1421.1,1425.6 1422,1428.7 1422.9,1411.1 1423.8,1418.8 1424.7,1403.6 1425.5,1430.6 1426.4,1404.2 1427.3,1424 1428.2,1415.2 1429.1,1420.2 1430,1438.6 1430.9,1421.7 1431.7,1415.9 1432.6,1424 1433.5,1430.6 1434.4,1434.6 1435.3,1414.5 1436.2,1418 1437.1,1421.6 1437.9,1429.7 1438.8,1423.3 1439.7,1424.8 1440.6,1429.7 1441.5,1413.8 1442.4,1422.5 1443.3,1414.5 1444.1,1428.1 1445,1425.6 1445.9,1419.5 1446.8,1424 1447.7,1418 1448.6,1413.8 1449.5,1413.8 1450.3,1413.8 1451.2,1424.8 1452.1,1428.1 1453,1424.8 1453.9,1428.9 1454.8,1422.5 1455.7,1420.2 1456.5,1418.8 1457.4,1422.5 1458.3,1413.8 1459.2,1428.1 1460.1,1435.9 1461,1418.8 1461.9,1415.2 1462.7,1442.6 1463.6,1421.7 1464.5,1412.5 1465.4,1419.5 1466.3,1421 1467.2,1420.2 1468.1,1432.3 1468.9,1421 1469.8,1429.7 1470.7,1425.6 1471.6,1420.2 1472.5,1436.8 1473.4,1422.5 1474.3,1433 1475.1,1422.5 1476,1435.9 1476.9,1441.6 1477.8,1406 1478.7,1422.5 1479.6,1419.5 1480.5,1439.6 1481.3,1426.4 1482.2,1417.3 1483.1,1426.4 1484,1427.2 1484.9,1427.2 1485.8,1428.9 1486.6,1418.8 1487.5,1427.2 1488.4,1426.4 1489.3,1431.4 1490.2,1444.6 1491.1,1428.9 1492,1425.6 1492.8,1425.6 1493.7,1425.6 1494.6,1430.6 1495.5,1431.4 1496.4,1426.4 1497.3,1422.5 1498.2,1448.4 1499,1428.1 1499.9,1435 1500.8,1420.2 1501.7,1423.3 1502.6,1433.2 1503.5,1423.3 1504.4,1423.3 1505.2,1444.6 1506.1,1443.6 1507,1442.6 1507.9,1416.6 1508.8,1429.7 1509.7,1424.8 1510.6,1451.1 1511.4,1417.3 1512.3,1435 1513.2,1437.2 1514.1,1421.7 1515,1430.6 1515.9,1427.2 1516.8,1425.6 1517.6,1437.7 1518.5,1438.7 1519.4,1424 1520.3,1435.9 1521.2,1436.8 1522.1,1439.6 1523,1446.7 1523.8,1421.7 1524.7,1430.6 1525.6,1434.1 1526.5,1434.1 1527.4,1466.2 1528.3,1438.7 1529.2,1454.5 1530,1445.7 1530.9,1435.9 1531.8,1431.4 1532.7,1433.2 1533.6,1459.4 1534.5,1435.9 1535.4,1433.2 1536.2,1445.7 1537.1,1444.6 1538,1423.3 1538.9,1435.9 1539.8,1441.6 1540.7,1427.2 1541.6,1435 1542.4,1432.3 1543.3,1426.4 1544.2,1443.7 1545.1,1429.7 1546,1422.5 1546.9,1427.2 1547.8,1445.7 1548.6,1437.7 1549.5,1431.4 1550.4,1425.6 1551.3,1455.7 1552.2,1447.8 1553.1,1451.1 1553.9,1446.7 1554.8,1444.6 1555.7,1459.3 1556.6,1425.6 1557.5,1435.9 1558.4,1432.3 1559.3,1443.6 1560.1,1435.9 1561,1434.1 1561.9,1438.7 1562.8,1425.6 1563.7,1446.1 1564.6,1455.7 1565.5,1451.1 1566.3,1441.6 1567.2,1429.7 1568.1,1437.7 1569,1439.6 1569.9,1442.6 1570.8,1432.3 1571.7,1439.6 1572.5,1435 1573.4,1445.7 1574.3,1437.7 1575.2,1431.4 1576.1,1446.7 1577,1451.1 1577.9,1426.4 1578.7,1443.6 1579.6,1435.9 1580.5,1448.8 1581.4,1444.6 1582.3,1428.9 1583.2,1438.7 1584.1,1458.1 1584.9,1454.5 1585.8,1447.8 1586.7,1445.7 1587.6,1444.6 1588.5,1467.3 1589.4,1442.6 1590.3,1439.6 1591.1,1445.7 1592,1441.6 1592.9,1443.6 1593.8,1437.7 1594.7,1461.9 1595.6,1440.6 1596.5,1444.3 1597.3,1440.6 1598.2,1464.6 1599.1,1447.8 1600,1443.6 1600.9,1443.6 1601.8,1428.9 1602.7,1439.6 1603.5,1439.6 1604.4,1454.5 1605.3,1444.6 1606.2,1439.6 1607.1,1431.4 1608,1439.6 1608.9,1442.6 1609.7,1446.7 1610.6,1430.6 1611.5,1451.1 1612.4,1447.8 1613.3,1436.8 1614.2,1451.1 1615.1,1439.6 1615.9,1448.8 1616.8,1425.6 1617.7,1421.7 1618.6,1435.9 1619.5,1426.4 1620.4,1436.8 1621.2,1454.5 1622.1,1433.2 1623,1446.7 1623.9,1429.7 1624.8,1447.8 1625.7,1435.9 1626.6,1437.7 1627.4,1454.5 1628.3,1459.3 1629.2,1452.2 1630.1,1433.2 1631,1434.1 1631.9,1441.6 1632.8,1446.7 1633.6,1459.3 1634.5,1454.1 1635.4,1441.6 1636.3,1441.6 1637.2,1429.7 1638.1,1433.2 1639,1446.7 1639.8,1434.1 1640.7,1448.8 1641.6,1440.6 1642.5,1433.2 1643.4,1422.5 1644.3,1455.7 1645.2,1454.5 1646,1428.9 1646.9,1430.6 1647.8,1436.8 1648.7,1437.7 1649.6,1434.1 1650.5,1456.2 1651.4,1432.3 1652.2,1430.6 1653.1,1460.6 1654,1445.7 1654.9,1424 1655.8,1460.6 1656.7,1446.7 1657.6,1445.7 1658.4,1438.7 1659.3,1433.2 1660.2,1446.7 1661.1,1430.6 1662,1444.6 1662.9,1429.7 1663.8,1461.5 1664.6,1443.6 1665.5,1435 1666.4,1438.7 1667.3,1430.6 1668.2,1452.2 1669.1,1452.2 1670,1429.7 1670.8,1439.6 1671.7,1439.6 1672.6,1418 1673.5,1447.8 1674.4,1451.1 1675.3,1435 1676.2,1439.7 1677,1435 1677.9,1443.6 1678.8,1451.1 1679.7,1433.2 1680.6,1428.1 1681.5,1434.1 1682.3,1432.3 1683.2,1432.3 1684.1,1438.7 1685,1440.6 1685.9,1451.1 1686.8,1439.6 1687.7,1438.7 1688.5,1440.6 1689.4,1444.6 1690.3,1451.1 1691.2,1431.4 1692.1,1438.7 1693,1433.2 1693.9,1441.6 1694.7,1438.7 1695.6,1434.1 1696.5,1463.2 1697.4,1439.6 1698.3,1427.2 1699.2,1436.8 1700.1,1421.7 1700.9,1449.9 1701.8,1432.3 1702.7,1445.7 1703.6,1444.6 1704.5,1439.6 1705.4,1452.2 1706.3,1434.1 1707.1,1436.8 1708,1441.6 1708.9,1453.6 1709.8,1430.6 1710.7,1446.7 1711.6,1436.8 1712.5,1439.6 1713.3,1431.4 1714.2,1440.6 1715.1,1470.3 1716,1433.2 1716.9,1436.8 1717.8,1440.6 1718.7,1444.6 1719.5,1452.2 1720.4,1429.7 1721.3,1439.5 1722.2,1437.7 1723.1,1453.7 1724,1432.3 1724.9,1429.7 1725.7,1435 1726.6,1439.6 1727.5,1440.6 1728.4,1438.7 1729.3,1444.6 1730.2,1444.6 1731.1,1438.7 1731.9,1429.7 1732.8,1429.7 1733.7,1442.6 1734.6,1434.1 1735.5,1432.3 1736.4,1456.9 1737.3,1441.6 1738.1,1454.5 1739,1464.8 1739.9,1435 1740.8,1443.6 1741.7,1432.3 1742.6,1432.3 1743.5,1441.6 1744.3,1449.9 1745.2,1456.9 1746.1,1427.9 1747,1434.1 1747.9,1443.6 1748.8,1424.8 1749.6,1443.6 1750.5,1447.8 1751.4,1429.7 1752.3,1437.7 1753.2,1427.2 1754.1,1424.8 1755,1433.2 1755.8,1432.5 1756.7,1425.6 1757.6,1447.8 1758.5,1431.4 1759.4,1443.6 1760.3,1431.4 1761.2,1456.9 1762,1435.9 1762.9,1442.6 1763.8,1435 1764.7,1425.6 1765.6,1429.7 1766.5,1454.5 1767.4,1444.6 1768.2,1441.6 1769.1,1452.2 1770,1437.7 1770.9,1441.6 1771.8,1435.9 1772.7,1448.8 1773.6,1433.2 1774.4,1443.6 1775.3,1436.8 1776.2,1423.3 1777.1,1432.3 1778,1431.4 1778.9,1433.2 1779.8,1446.7 1780.6,1432.3 1781.5,1435.9 1782.4,1433.2 1783.3,1442.6 1784.2,1448.8 1785.1,1444.6 1786,1437.7 1786.8,1447.8 1787.7,1451.1 1788.6,1447.4 1789.5,1436.9 1790.4,1439.6 1791.3,1435 1792.2,1442.6 1793,1439.6 1793.9,1435.9 1794.8,1440.6 1795.7,1438.7 1796.6,1424 1797.5,1427.2 1798.4,1433.2 1799.2,1431.4 1800.1,1435 1801,1442.6 1801.9,1413.1 1802.8,1438.7 1803.7,1427.2 1804.6,1435.9 1805.4,1435.9 1806.3,1426.4 1807.2,1437.7 1808.1,1440 1809,1429.7 1809.9,1440.6 1810.8,1444.6 1811.6,1454.5 1812.5,1438.7 1813.4,1449.9 1814.3,1435.9 1815.2,1427.2 1816.1,1439.6 1816.9,1427.2 1817.8,1432.3 1818.7,1435 1819.6,1432.3 1820.5,1446.9 1821.4,1438.7 1822.3,1436.8 1823.1,1431.4 1824,1443.6 1824.9,1436.8 1825.8,1446.7 1826.7,1418.8 1827.6,1444.6 1828.5,1441.6 1829.3,1430.6 1830.2,1426.4 1831.1,1443.6 1832,1443.6 1832.9,1431.4 1833.8,1432.3 1834.7,1455.7 1835.5,1427.2 1836.4,1424.8 1837.3,1441.6 1838.2,1446.7 1839.1,1446.7 1840,1422.1 1840.9,1439.6 1841.7,1434.1 1842.6,1444.6 1843.5,1415.9 1844.4,1437.7 1845.3,1428.1 1846.2,1427.2 1847.1,1428.9 1847.9,1450.2 1848.8,1435 1849.7,1435 1850.6,1439.6 1851.5,1461.4 1852.4,1434.1 1853.3,1429.7 1854.1,1426.4 1855,1418.8 1855.9,1434.1 1856.8,1415.9 1857.7,1426.4 1858.6,1426.4 1859.5,1429.7 1860.3,1434.1 1861.2,1429.7 1862.1,1432.3 1863,1426.4 1863.9,1423.3 1864.8,1424.8 1865.7,1424 1866.5,1445.7 1867.4,1426.4 1868.3,1431.4 1869.2,1417.3 1870.1,1437.7 1871,1445.7 1871.9,1428.1 1872.7,1436.9 1873.6,1428.1 1874.5,1443.6 1875.4,1432.3 1876.3,1429.7 1877.2,1424 1878.1,1426.4 1878.9,1435.9 1879.8,1428.9 1880.7,1440.6 1881.6,1424.8 1882.5,1436.8 1883.4,1435.9 1884.2,1454.5 1885.1,1421 1886,1444.6 1886.9,1432.3 1887.8,1429.7 1888.7,1430.6 1889.6,1430.2 1890.4,1449.9 1891.3,1465.5 1892.2,1432.3 1893.1,1445.7 1894,1447.5 1894.9,1433.2 1895.8,1432.3 1896.6,1428.1 1897.5,1445.7 1898.4,1426.4 1899.3,1432.3 1900.2,1421.7 1901.1,1431.4 1902,1434.1 1902.8,1451.1 1903.7,1435 1904.6,1411.8 1905.5,1421 1906.4,1429.7 1907.3,1436.8 1908.2,1443.6 1909,1429.2 1909.9,1436.8 1910.8,1438.7 1911.7,1438.7 1912.6,1427.2 1913.5,1438.7 1914.4,1435 1915.2,1423.3 1916.1,1428 1917,1428.1 1917.9,1424.8 1918.8,1433.2 1919.7,1427.2 1920.6,1452.2 1921.4,1440.6 1922.3,1435.9 1923.2,1426.4 1924.1,1434.1 1925,1433.2 1925.9,1423.3 1926.8,1415.2 1927.6,1423.3 1928.5,1432.3 1929.4,1427.2 1930.3,1440.6 1931.2,1429.1 1932.1,1424.8 1933,1421.7 1933.8,1429.7 1934.7,1433.2 1935.6,1429.7 1936.5,1444.6 1937.4,1433.2 1938.3,1432.3 1939.2,1429.7 1940,1433.2 1940.9,1435 1941.8,1429.7 1942.7,1423.3 1943.6,1437.7 1944.5,1428.1 1945.4,1421.7 1946.2,1428.9 1947.1,1438.7 1948,1435.9 1948.9,1431.4 1949.8,1427.2 1950.7,1432.3 1951.5,1429.7 1952.4,1433.2 1953.3,1421 1954.2,1441.4 1955.1,1435.9 1956,1425.6 1956.9,1451.1 1957.7,1431.4 1958.6,1435 1959.5,1431.4 1960.4,1432.3 1961.3,1442.5 1962.2,1431.9 1963.1,1424 1963.9,1441.6 1964.8,1422.5 1965.7,1430.6 1966.6,1421 1967.5,1436.8 1968.4,1435 1969.3,1421 1970.1,1428.9 1971,1411.8 1971.9,1436.8 1972.8,1442.6 1973.7,1430.6 1974.6,1426.4 1975.5,1417.3 1976.3,1419.5 1977.2,1415.9 1978.1,1429.7 1979,1435 1979.9,1424.8 1980.8,1430.9 1981.7,1422.5 1982.5,1424 1983.4,1413.8 1984.3,1419.5 1985.2,1433.2 1986.1,1424.8 1987,1437.7 1987.9,1428.1 1988.7,1424.8 1989.6,1438.9 1990.5,1418.8 1991.4,1428.9 1992.3,1435.9 1993.2,1421 1994.1,1445.7 1994.9,1424 1995.8,1422.5 1996.7,1433.2 1997.6,1434.1 1998.5,1437.7 1999.4,1428.1 2000.3,1425.6 2001.1,1423.3 2002,1428.1 2002.9,1429.7 2003.8,1441.6 2004.7,1420.2 2005.6,1427.2 2006.5,1425.6 2007.3,1435.9 2008.2,1426.4 2009.1,1426.4 2010,1432.3 2010.9,1432.3 2011.8,1436.8 2012.7,1420.2 2013.5,1421.7 2014.4,1424.8 2015.3,1435 2016.2,1440.6 2017.1,1424.8 2018,1438.7 2018.8,1415.2 2019.7,1440.6 2020.6,1464.1 2021.5,1432.3 2022.4,1422.5 2023.3,1425.6 2024.2,1425.6 2025,1425.6 2025.9,1407.3 2026.8,1437.7 2027.7,1428.1 2028.6,1413.8 2029.5,1420.2 2030.4,1420.2 2031.2,1413.1 2032.1,1428.9 2033,1436.8 2033.9,1428.9 2034.8,1423.3 2035.7,1424 2036.6,1428.9 2037.4,1408.5 2038.3,1425.6 2039.2,1410.5 2040.1,1413.8 2041,1426.4 2041.9,1414.5 2042.8,1411.1 2043.6,1428.1 2044.5,1410.5 2045.4,1428.9 2046.3,1423.3 2047.2,1418.8 2048.1,1418.8 2049,1430.6 2049.8,1420.2 2050.7,1412.5 2051.6,1413.8 2052.5,1434.1 2053.4,1422.5 2054.3,1428.1 2055.2,1426.4 2056,1435.9 2056.9,1431.4 2057.8,1417.3 2058.7,1421 2059.6,1414.5 2060.5,1424.2 2061.4,1430.6 2062.2,1413.8 2063.1,1430.6 2064,1424.8 2064.9,1410.5 2065.8,1428.1 2066.7,1422.5 2067.6,1412.5 2068.4,1418 2069.3,1423.3"/>
</g>
<g id="ref-lines" fill="none">
<line x1="870.7" y1="314.5" x2="870.7" y2="1473.3" stroke="#008000" stroke-width="5" stroke-linecap="round" stroke-dasharray="3.3 16.3" stroke-dashoffset="18.5"/>
<line x1="562.3" y1="306" x2="562.3" y2="1409.6" stroke="#0000ff" stroke-width="6.2" stroke-linecap="round" stroke-dasharray="18 27.2" stroke-dashoffset="0"/>
<line x1="660.7" y1="306" x2="660.7" y2="1409.6" stroke="#0000ff" stroke-width="6.2" stroke-linecap="round" stroke-dasharray="18 27.2" stroke-dashoffset="0"/>
<line x1="821.1" y1="305.9" x2="821.1" y2="1409.7" stroke="#0000ff" stroke-width="6" stroke-linecap="round" stroke-dasharray="18.2 27" stroke-dashoffset="0"/>
<line x1="844" y1="305.9" x2="844" y2="1409.7" stroke="#0000ff" stroke-width="6" stroke-linecap="round" stroke-dasharray="18.2 27" stroke-dashoffset="0"/>
<line x1="922.2" y1="305.9" x2="922.2" y2="1409.7" stroke="#0000ff" stroke-width="6" stroke-linecap="round" stroke-dasharray="18.2 27" stroke-dashoffset="0"/>
<line x1="1150.2" y1="305.9" x2="1150.2" y2="1409.7" stroke="#0000ff" stroke-width="6" stroke-linecap="round" stroke-dasharray="18.2 27" stroke-dashoffset="0"/>
<line x1="1485.4" y1="306.2" x2="1485.4" y2="1409.4" stroke="#0000ff" stroke-width="6.6" stroke-linecap="round" stroke-dasharray="17.6 27.6" stroke-dashoffset="0"/>
<line x1="1606.4" y1="306.2" x2="1606.4" y2="1409.4" stroke="#0000ff" stroke-width="6.6" stroke-linecap="round" stroke-dasharray="17.6 27.6" stroke-dashoffset="0"/>
<line x1="1769.7" y1="306.2" x2="1769.7" y2="1409.4" stroke="#0000ff" stroke-width="6.6" stroke-linecap="round" stroke-dasharray="17.6 27.6" stroke-dashoffset="0"/>
<line x1="1827.5" y1="306.2" x2="1827.5" y2="1409.4" stroke="#0000ff" stroke-width="6.6" stroke-linecap="round" stroke-dasharray="17.6 27.6" stroke-dashoffset="0"/>
<line x1="1355.1" y1="303.8" x2="1355.1" y2="1394" stroke="#0000ff" stroke-width="6" stroke-linecap="round" stroke-dasharray="18.2 27" stroke-dashoffset="10.9"/>
<line x1="1422.7" y1="322.4" x2="1422.7" y2="1425.3" stroke="#0000ff" stroke-width="6" stroke-linecap="round" stroke-dasharray="18.2 27" stroke-dashoffset="0"/>
<line x1="1380.5" y1="305.1" x2="1380.5" y2="1391.6" stroke="#0000ff" stroke-width="4.8" stroke-linecap="round" stroke-dasharray="14.6 17.9" stroke-dashoffset="0"/>
<line x1="874.4" y1="303" x2="874.4" y2="1444.9" stroke="#0000ff" stroke-width="6" stroke-linecap="round" stroke-dasharray="18.6 26.5" stroke-dashoffset="5.8"/>
<line x1="871.6" y1="324.2" x2="871.6" y2="1092.8" stroke="#0000ff" stroke-width="4.4" stroke-linecap="round" stroke-dasharray="14.6 17.9" stroke-dashoffset="21.5"/>
<line x1="1103.1" y1="304.8" x2="1103.1" y2="1348" stroke="#ff0000" stroke-width="5.9" stroke-linecap="round" stroke-dasharray="18.1 27" stroke-dashoffset="18.8"/>
<line x1="1373" y1="298.8" x2="1373" y2="1375.5" stroke="#ff0000" stroke-width="4" stroke-linecap="butt" stroke-dasharray="19.6 12.9" stroke-dashoffset="0"/>
</g>
<g id="panel-top">
<line x1="231" y1="99.2" x2="260" y2="99.2" stroke="#000" stroke-width="6" stroke-linecap="round"/>
<line x1="250" y1="99.2" x2="2118.7" y2="99.2" stroke="#000" stroke-width="6" stroke-linecap="butt"/>
<line x1="231" y1="317.9" x2="260" y2="317.9" stroke="#000" stroke-width="6" stroke-linecap="round"/>
<line x1="250" y1="317.9" x2="2118.7" y2="317.9" stroke="#000" stroke-width="6" stroke-linecap="butt"/>
<line x1="244" y1="112.9" x2="257" y2="112.9" stroke="#000" stroke-width="5.4" stroke-linecap="round"/>
<line x1="231" y1="126.5" x2="257" y2="126.5" stroke="#000" stroke-width="5.4" stroke-linecap="round"/>
<line x1="244" y1="140.2" x2="257" y2="140.2" stroke="#000" stroke-width="5.4" stroke-linecap="round"/>
<line x1="231" y1="153.9" x2="257" y2="153.9" stroke="#000" stroke-width="5.4" stroke-linecap="round"/>
<line x1="244" y1="167.5" x2="257" y2="167.5" stroke="#000" stroke-width="5.4" stroke-linecap="round"/>
<line x1="231" y1="181.2" x2="257" y2="181.2" stroke="#000" stroke-width="5.4" stroke-linecap="round"/>
<line x1="244" y1="194.9" x2="257" y2="194.9" stroke="#000" stroke-width="5.4" stroke-linecap="round"/>
<line x1="231" y1="208.6" x2="257" y2="208.6" stroke="#000" stroke-width="5.4" stroke-linecap="round"/>
<line x1="244" y1="222.2" x2="257" y2="222.2" stroke="#000" stroke-width="5.4" stroke-linecap="round"/>
<line x1="231" y1="235.9" x2="257" y2="235.9" stroke="#000" stroke-width="5.4" stroke-linecap="round"/>
<line x1="244" y1="249.6" x2="257" y2="249.6" stroke="#000" stroke-width="5.4" stroke-linecap="round"/>
<line x1="231" y1="263.2" x2="257" y2="263.2" stroke="#000" stroke-width="5.4" stroke-linecap="round"/>
<line x1="244" y1="276.9" x2="257" y2="276.9" stroke="#000" stroke-width="5.4" stroke-linecap="round"/>
<line x1="231" y1="290.6" x2="257" y2="290.6" stroke="#000" stroke-width="5.4" stroke-linecap="round"/>
<line x1="244" y1="304.2" x2="257" y2="304.2" stroke="#000" stroke-width="5.4" stroke-linecap="round"/>
<path d="M557.7 317.9 V263.4 Q561.3 260 564.9 263.4 V317.9 Z" fill="#000"/>
<path d="M657.1 317.9 V263.4 Q660.7 260 664.3 263.4 V317.9 Z" fill="#000"/>
<path d="M818.3 317.9 V263.4 Q821.6 260 824.9 263.4 V317.9 Z" fill="#000"/>
<path d="M838.1 317.9 V263.4 Q841 260 843.9 263.4 V317.9 Z" fill="#000"/>
<path d="M868.2 317.9 V263.4 Q873 260 877.8 263.4 V317.9 Z" fill="#000"/>
<path d="M918.8 317.9 V263.4 Q922.2 260 925.7 263.4 V317.9 Z" fill="#000"/>
<path d="M1099.2 317.9 V263.4 Q1102.7 260 1106.2 263.4 V317.9 Z" fill="#000"/>
<path d="M1148.4 317.9 V263.4 Q1151.3 260 1154.2 263.4 V317.9 Z" fill="#000"/>
<path d="M1351.2 317.9 V263.4 Q1354.5 260 1357.8 263.4 V317.9 Z" fill="#000"/>
<path d="M1372.1 317.9 V263.4 Q1375 260 1377.9 263.4 V317.9 Z" fill="#000"/>
<path d="M1377.1 317.9 V263.4 Q1380 260 1382.9 263.4 V317.9 Z" fill="#000"/>
<path d="M1418 317.9 V263.4 Q1421.5 260 1425 263.4 V317.9 Z" fill="#000"/>
<path d="M1480.2 317.9 V263.4 Q1483.1 260 1486 263.4 V317.9 Z" fill="#000"/>
<path d="M1602 317.9 V263.4 Q1605.5 260 1609 263.4 V317.9 Z" fill="#000"/>
<path d="M1765.2 317.9 V263.4 Q1768.1 260 1771 263.4 V317.9 Z" fill="#000"/>
<path d="M1822.2 317.9 V263.4 Q1825.5 260 1828.8 263.4 V317.9 Z" fill="#000"/>
</g>
<g id="ref-tops">
<line x1="562.3" y1="306.1" x2="562.3" y2="314.9" stroke="#0000ff" stroke-width="6.2" stroke-linecap="round"/>
<line x1="660.7" y1="306.1" x2="660.7" y2="314.9" stroke="#0000ff" stroke-width="6.2" stroke-linecap="round"/>
<line x1="821.1" y1="306" x2="821.1" y2="314.9" stroke="#0000ff" stroke-width="6" stroke-linecap="round"/>
<line x1="844" y1="306" x2="844" y2="314.9" stroke="#0000ff" stroke-width="6" stroke-linecap="round"/>
<line x1="922.2" y1="306" x2="922.2" y2="314.9" stroke="#0000ff" stroke-width="6" stroke-linecap="round"/>
<line x1="1150.2" y1="306" x2="1150.2" y2="314.9" stroke="#0000ff" stroke-width="6" stroke-linecap="round"/>
<line x1="1485.4" y1="306.3" x2="1485.4" y2="314.9" stroke="#0000ff" stroke-width="6.6" stroke-linecap="round"/>
<line x1="1606.4" y1="306.3" x2="1606.4" y2="314.9" stroke="#0000ff" stroke-width="6.6" stroke-linecap="round"/>
<line x1="1769.7" y1="306.3" x2="1769.7" y2="314.9" stroke="#0000ff" stroke-width="6.6" stroke-linecap="round"/>
<line x1="1827.5" y1="306.3" x2="1827.5" y2="314.9" stroke="#0000ff" stroke-width="6.6" stroke-linecap="round"/>
<line x1="1355.1" y1="306" x2="1355.1" y2="314.9" stroke="#0000ff" stroke-width="6" stroke-linecap="round"/>
<line x1="1380.5" y1="305" x2="1380.5" y2="314.9" stroke="#0000ff" stroke-width="4.8" stroke-linecap="round"/>
<line x1="1373" y1="301.8" x2="1373" y2="314.9" stroke="#ff0000" stroke-width="4" stroke-linecap="butt"/>
<rect x="1100.2" y="301.6" width="5.8" height="5.2" rx="1.5" fill="#ff0000"/>
<path d="M868.3 315 L871 311 L874 315 Z" fill="#008000"/>
</g>
<g id="leaders" stroke-linecap="round">
<line x1="756.9" y1="200" x2="825.4" y2="279.4" stroke="#0000ff" stroke-width="5.4" stroke-linecap="round"/>
<line x1="821.3" y1="198.2" x2="842.8" y2="274.7" stroke="#0000ff" stroke-width="5.4" stroke-linecap="round"/>
<line x1="872.6" y1="195.4" x2="872.6" y2="262.6" stroke="#0000ff" stroke-width="5.4" stroke-linecap="round"/>
<line x1="922.1" y1="212.2" x2="872.6" y2="270" stroke="#008000" stroke-width="5.4" stroke-linecap="round"/>
<line x1="992" y1="198" x2="924" y2="265.4" stroke="#0000ff" stroke-width="5.4" stroke-linecap="round"/>
<line x1="1258.6" y1="233.7" x2="1352.9" y2="266.4" stroke="#0000ff" stroke-width="5.4" stroke-linecap="round"/>
<line x1="1321.2" y1="218.7" x2="1371.6" y2="262.6" stroke="#ff0000" stroke-width="5.4" stroke-linecap="round"/>
</g>
<g id="peak-labels" font-size="51" letter-spacing="0" stroke-width="0.5">
<text transform="translate(575.4 250.6) rotate(-90)" fill="#0000ff" stroke="#0000ff" letter-spacing="0.45"><tspan stroke-width="1.3">#</tspan>(002)</text>
<text transform="translate(675.6 250.6) rotate(-90)" fill="#0000ff" stroke="#0000ff" letter-spacing="0.45"><tspan stroke-width="1.3">#</tspan>(102)</text>
<text transform="translate(755 311.3) rotate(-90)" fill="#0000ff" stroke="#0000ff" letter-spacing="0.45"><tspan stroke-width="1.3">#</tspan>(211)</text>
<text transform="translate(825 256.2) rotate(-90)" fill="#0000ff" stroke="#0000ff" letter-spacing="0.45"><tspan stroke-width="1.3">#</tspan>(112)</text>
<text transform="translate(890 256.2) rotate(-90)" fill="#0000ff" stroke="#0000ff" letter-spacing="0.45"><tspan stroke-width="1.3">#</tspan>(300)</text>
<text transform="translate(944.5 266.5) rotate(-90)" fill="#008000" stroke="#008000" letter-spacing="-0.15">**(002)</text>
<text transform="translate(1027.6 252.4) rotate(-90)" fill="#0000ff" stroke="#0000ff" letter-spacing="0.45"><tspan stroke-width="1.3">#</tspan>(202)</text>
<text transform="translate(1103.6 258.4) rotate(-90)" fill="#ff0000" stroke="#ff0000" letter-spacing="-0.15">*(111)</text>
<text transform="translate(1165.8 250.3) rotate(-90)" fill="#0000ff" stroke="#0000ff" letter-spacing="0.45"><tspan stroke-width="1.3">#</tspan>(212)</text>
<text transform="translate(1281.6 334.6) rotate(-90)" fill="#0000ff" stroke="#0000ff" letter-spacing="0.45"><tspan stroke-width="1.3">#</tspan>(113)</text>
<text transform="translate(1336.1 248.2) rotate(-90)" fill="#ff0000" stroke="#ff0000" letter-spacing="-0.15">*(200)</text>
<text transform="translate(1394.8 250.3) rotate(-90)" fill="#0000ff" stroke="#0000ff" letter-spacing="0.45"><tspan stroke-width="1.3">#</tspan>(400)</text>
<text transform="translate(1435.9 250.3) rotate(-90)" fill="#0000ff" stroke="#0000ff" letter-spacing="0.45"><tspan stroke-width="1.3">#</tspan>(203)</text>
<text transform="translate(1498.5 250.3) rotate(-90)" fill="#0000ff" stroke="#0000ff" letter-spacing="0.45"><tspan stroke-width="1.3">#</tspan>(222)</text>
<text transform="translate(1620.8 250.3) rotate(-90)" fill="#0000ff" stroke="#0000ff" letter-spacing="0.45"><tspan stroke-width="1.3">#</tspan>(213)</text>
<text transform="translate(1782.7 250.3) rotate(-90)" fill="#0000ff" stroke="#0000ff" letter-spacing="0.45"><tspan stroke-width="1.3">#</tspan>(004)</text>
<text transform="translate(1840 250.3) rotate(-90)" fill="#0000ff" stroke="#0000ff" letter-spacing="0.45"><tspan stroke-width="1.3">#</tspan>(104)</text>
</g>
<g id="tick-labels" font-size="51.7" fill="#000" stroke="#000" stroke-width="0.5" letter-spacing="0.4">
<text x="301.8" y="402.3" text-anchor="middle">20</text>
<text x="523.1" y="402.3" text-anchor="middle">25</text>
<text x="744.4" y="402.3" text-anchor="middle">30</text>
<text x="965.8" y="402.3" text-anchor="middle">35</text>
<text x="1187.1" y="402.3" text-anchor="middle">40</text>
<text x="1408.4" y="402.3" text-anchor="middle">45</text>
<text x="1629.8" y="402.3" text-anchor="middle">50</text>
<text x="1851.1" y="402.3" text-anchor="middle">55</text>
<text x="2072.4" y="402.3" text-anchor="middle">60</text>
<text x="301.8" y="784.6" text-anchor="middle">20</text>
<text x="523.1" y="784.6" text-anchor="middle">25</text>
<text x="744.4" y="784.6" text-anchor="middle">30</text>
<text x="965.8" y="784.6" text-anchor="middle">35</text>
<text x="1187.1" y="784.6" text-anchor="middle">40</text>
<text x="1408.4" y="784.6" text-anchor="middle">45</text>
<text x="1629.8" y="784.6" text-anchor="middle">50</text>
<text x="1851.1" y="784.6" text-anchor="middle">55</text>
<text x="2072.4" y="784.6" text-anchor="middle">60</text>
<text x="301.8" y="1163.3" text-anchor="middle">20</text>
<text x="523.1" y="1163.3" text-anchor="middle">25</text>
<text x="744.4" y="1163.3" text-anchor="middle">30</text>
<text x="965.8" y="1163.3" text-anchor="middle">35</text>
<text x="1187.1" y="1163.3" text-anchor="middle">40</text>
<text x="1408.4" y="1163.3" text-anchor="middle">45</text>
<text x="1629.8" y="1163.3" text-anchor="middle">50</text>
<text x="1851.1" y="1163.3" text-anchor="middle">55</text>
<text x="2072.4" y="1163.3" text-anchor="middle">60</text>
<text x="299" y="1547.9" text-anchor="middle">20</text>
<text x="520.4" y="1547.9" text-anchor="middle">25</text>
<text x="741.7" y="1547.9" text-anchor="middle">30</text>
<text x="963.1" y="1547.9" text-anchor="middle">35</text>
<text x="1184.5" y="1547.9" text-anchor="middle">40</text>
<text x="1405.9" y="1547.9" text-anchor="middle">45</text>
<text x="1627.3" y="1547.9" text-anchor="middle">50</text>
<text x="1848.6" y="1547.9" text-anchor="middle">55</text>
<text x="2070" y="1547.9" text-anchor="middle">60</text>
<text x="214.6" y="716" text-anchor="end" letter-spacing="0">10</text>
<text x="214.6" y="597.7" text-anchor="end" letter-spacing="0">100</text>
<text x="214.6" y="479.3" text-anchor="end" letter-spacing="0">1,000</text>
<text x="214.6" y="361" text-anchor="end" letter-spacing="0">10,000</text>
<text x="214.6" y="1080.6" text-anchor="end" letter-spacing="0">10</text>
<text x="214.6" y="935.1" text-anchor="end" letter-spacing="0">100</text>
<text x="214.6" y="789.5" text-anchor="end" letter-spacing="0">1,000</text>
<text x="214.6" y="1440.6" text-anchor="end" letter-spacing="0">10</text>
<text x="214.6" y="1267.7" text-anchor="end" letter-spacing="0">100</text>
</g>
<g id="titles" font-size="63" stroke-width="0.5">
<text x="1112" y="61.2" fill="#0000ff" stroke="#0000ff" letter-spacing="0.2"><tspan stroke-width="1.5">#</tspan> HA; <tspan fill="#ff0000" stroke="#ff0000">*Ag</tspan>, <tspan fill="#008000" stroke="#008000">**Si</tspan></text>
<text x="1948.4" y="616.3" fill="#2038ff" stroke="#2038ff" font-size="63" letter-spacing="0.6">HA</text>
<text x="1857" y="966.9" fill="#006400" stroke="#006400" font-size="62.5" letter-spacing="0.8">SiC-HA</text>
<text x="1782.4" y="1347.9" fill="#c80000" stroke="#c80000" font-size="62.5" letter-spacing="0.45">Ag-SiC-HA</text>
<text y="1646" fill="#000" stroke="#000"><tspan x="1004.6">2</tspan><tspan class="sym" x="1041.5" font-size="60">θ</tspan><tspan x="1072.2">/</tspan><tspan class="sym" x="1088.7" font-size="60">θ</tspan><tspan x="1136.6" letter-spacing="0.2">(deg.)</tspan></text>
<text transform="translate(73.9 873.4) rotate(-90)" font-size="62.5" fill="#000" stroke="#000">I<tspan font-size="38.5" dy="24.6">rel</tspan><tspan dy="-24.6"> (a.u.)</tspan></text>
</g>
</svg></body></html>
